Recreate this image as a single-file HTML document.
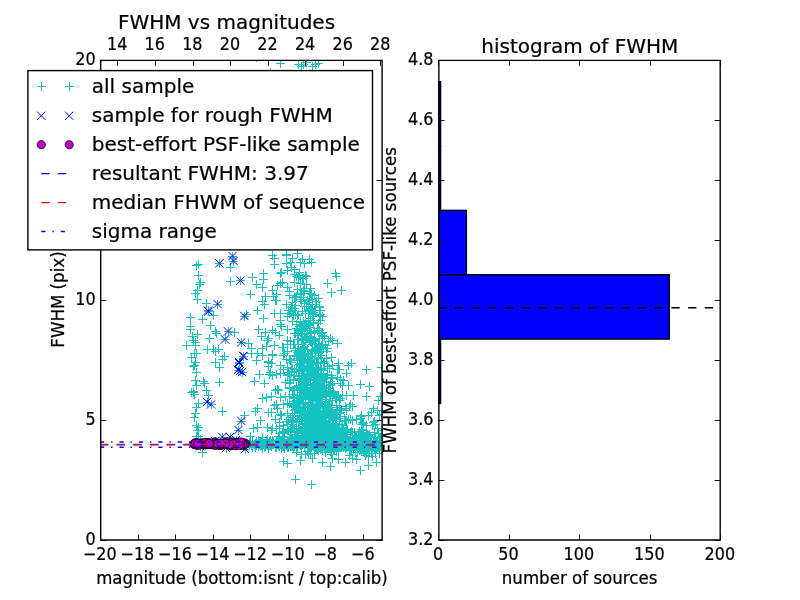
<!DOCTYPE html>
<html><head><meta charset="utf-8"><title>FWHM vs magnitudes</title>
<style>html,body{margin:0;padding:0;background:#fff;overflow:hidden}svg{display:block}</style></head>
<body>
<svg width="800" height="600" viewBox="0 0 800 600" font-family="'DejaVu Sans', 'Liberation Sans', sans-serif" font-size="16.67px" fill="#000" stroke="#000" stroke-width="0.22">
<rect width="800" height="600" fill="#fff" stroke="none"/>
<defs><clipPath id="c1"><rect x="100.00" y="60.00" width="281.82" height="480.00"/></clipPath><clipPath id="c2"><rect x="438.18" y="60.00" width="281.82" height="480.00"/></clipPath></defs>
<g clip-path="url(#c1)" fill="none">
<path d="M293 315.5h9M297.5 311v9M308 424.5h9M312.5 420v9M295 387.5h9M299.5 383v9M332 419.5h9M336.5 415v9M304 442.5h9M308.5 438v9M301 399.5h9M305.5 395v9M313 395.5h9M317.5 391v9M316 314.5h9M320.5 310v9M320 361.5h9M324.5 357v9M304 394.5h9M308.5 390v9M314 414.5h9M318.5 410v9M314 426.5h9M318.5 422v9M314 379.5h9M318.5 375v9M304 311.5h9M308.5 307v9M298 365.5h9M302.5 361v9M297 436.5h9M301.5 432v9M308 351.5h9M312.5 347v9M296 388.5h9M300.5 384v9M330 438.5h9M334.5 434v9M300 291.5h9M304.5 287v9M299 406.5h9M303.5 402v9M309 439.5h9M313.5 435v9M301 354.5h9M305.5 350v9M309 400.5h9M313.5 396v9M325 436.5h9M329.5 432v9M290 333.5h9M294.5 329v9M289 397.5h9M293.5 393v9M316 421.5h9M320.5 417v9M309 413.5h9M313.5 409v9M311 390.5h9M315.5 386v9M310 349.5h9M314.5 345v9M308 393.5h9M312.5 389v9M317 378.5h9M321.5 374v9M300 392.5h9M304.5 388v9M309 377.5h9M313.5 373v9M302 430.5h9M306.5 426v9M298 423.5h9M302.5 419v9M314 369.5h9M318.5 365v9M317 403.5h9M321.5 399v9M287 362.5h9M291.5 358v9M297 389.5h9M301.5 385v9M311 375.5h9M315.5 371v9M324 412.5h9M328.5 408v9M301 377.5h9M305.5 373v9M307 389.5h9M311.5 385v9M295 418.5h9M299.5 414v9M336 383.5h9M340.5 379v9M319 436.5h9M323.5 432v9M314 344.5h9M318.5 340v9M320 421.5h9M324.5 417v9M319 385.5h9M323.5 381v9M316 385.5h9M320.5 381v9M307 410.5h9M311.5 406v9M318 397.5h9M322.5 393v9M310 384.5h9M314.5 380v9M307 262.5h9M311.5 258v9M296 321.5h9M300.5 317v9M305 417.5h9M309.5 413v9M317 397.5h9M321.5 393v9M327 416.5h9M331.5 412v9M315 440.5h9M319.5 436v9M303 415.5h9M307.5 411v9M300 306.5h9M304.5 302v9M302 368.5h9M306.5 364v9M332 405.5h9M336.5 401v9M316 355.5h9M320.5 351v9M330 441.5h9M334.5 437v9M317 439.5h9M321.5 435v9M306 431.5h9M310.5 427v9M322 391.5h9M326.5 387v9M333 430.5h9M337.5 426v9M310 332.5h9M314.5 328v9M307 368.5h9M311.5 364v9M321 390.5h9M325.5 386v9M307 421.5h9M311.5 417v9M318 393.5h9M322.5 389v9M298 334.5h9M302.5 330v9M298 373.5h9M302.5 369v9M314 370.5h9M318.5 366v9M311 367.5h9M315.5 363v9M324 341.5h9M328.5 337v9M306 384.5h9M310.5 380v9M310 388.5h9M314.5 384v9M298 424.5h9M302.5 420v9M289 426.5h9M293.5 422v9M290 397.5h9M294.5 393v9M314 390.5h9M318.5 386v9M298 424.5h9M302.5 420v9M327 434.5h9M331.5 430v9M328 414.5h9M332.5 410v9M309 426.5h9M313.5 422v9M334 438.5h9M338.5 434v9M303 300.5h9M307.5 296v9M327 433.5h9M331.5 429v9M305 363.5h9M309.5 359v9M320 392.5h9M324.5 388v9M301 426.5h9M305.5 422v9M319 418.5h9M323.5 414v9M300 336.5h9M304.5 332v9M310 412.5h9M314.5 408v9M308 313.5h9M312.5 309v9M310 375.5h9M314.5 371v9M311 427.5h9M315.5 423v9M317 385.5h9M321.5 381v9M320 406.5h9M324.5 402v9M295 419.5h9M299.5 415v9M319 428.5h9M323.5 424v9M320 422.5h9M324.5 418v9M290 274.5h9M294.5 270v9M313 384.5h9M317.5 380v9M295 390.5h9M299.5 386v9M315 307.5h9M319.5 303v9M308 399.5h9M312.5 395v9M310 407.5h9M314.5 403v9M327 429.5h9M331.5 425v9M311 439.5h9M315.5 435v9M310 331.5h9M314.5 327v9M296 354.5h9M300.5 350v9M305 412.5h9M309.5 408v9M291 333.5h9M295.5 329v9M304 353.5h9M308.5 349v9M322 403.5h9M326.5 399v9M307 342.5h9M311.5 338v9M323 424.5h9M327.5 420v9M300 431.5h9M304.5 427v9M292 296.5h9M296.5 292v9M305 398.5h9M309.5 394v9M319 426.5h9M323.5 422v9M318 441.5h9M322.5 437v9M307 362.5h9M311.5 358v9M311 341.5h9M315.5 337v9M311 433.5h9M315.5 429v9M313 436.5h9M317.5 432v9M319 348.5h9M323.5 344v9M303 387.5h9M307.5 383v9M314 418.5h9M318.5 414v9M333 430.5h9M337.5 426v9M306 341.5h9M310.5 337v9M320 413.5h9M324.5 409v9M305 427.5h9M309.5 423v9M332 400.5h9M336.5 396v9M283 340.5h9M287.5 336v9M290 297.5h9M294.5 293v9M296 363.5h9M300.5 359v9M332 427.5h9M336.5 423v9M304 302.5h9M308.5 298v9M295 275.5h9M299.5 271v9M295 376.5h9M299.5 372v9M305 310.5h9M309.5 306v9M306 337.5h9M310.5 333v9M293 289.5h9M297.5 285v9M293 397.5h9M297.5 393v9M298 416.5h9M302.5 412v9M311 385.5h9M315.5 381v9M307 333.5h9M311.5 329v9M309 371.5h9M313.5 367v9M309 405.5h9M313.5 401v9M291 439.5h9M295.5 435v9M314 443.5h9M318.5 439v9M296 356.5h9M300.5 352v9M298 278.5h9M302.5 274v9M318 429.5h9M322.5 425v9M304 437.5h9M308.5 433v9M298 389.5h9M302.5 385v9M324 423.5h9M328.5 419v9M317 432.5h9M321.5 428v9M303 407.5h9M307.5 403v9M275 433.5h9M279.5 429v9M299 290.5h9M303.5 286v9M313 362.5h9M317.5 358v9M319 363.5h9M323.5 359v9M298 329.5h9M302.5 325v9M305 436.5h9M309.5 432v9M296 294.5h9M300.5 290v9M321 414.5h9M325.5 410v9M291 314.5h9M295.5 310v9M307 376.5h9M311.5 372v9M299 384.5h9M303.5 380v9M308 344.5h9M312.5 340v9M293 397.5h9M297.5 393v9M314 399.5h9M318.5 395v9M303 369.5h9M307.5 365v9M309 420.5h9M313.5 416v9M310 339.5h9M314.5 335v9M317 347.5h9M321.5 343v9M290 375.5h9M294.5 371v9M319 378.5h9M323.5 374v9M311 349.5h9M315.5 345v9M309 437.5h9M313.5 433v9M330 429.5h9M334.5 425v9M305 325.5h9M309.5 321v9M322 377.5h9M326.5 373v9M300 355.5h9M304.5 351v9M300 388.5h9M304.5 384v9M320 363.5h9M324.5 359v9M334 395.5h9M338.5 391v9M321 437.5h9M325.5 433v9M318 379.5h9M322.5 375v9M306 411.5h9M310.5 407v9M295 406.5h9M299.5 402v9M309 422.5h9M313.5 418v9M316 310.5h9M320.5 306v9M289 421.5h9M293.5 417v9M307 439.5h9M311.5 435v9M289 406.5h9M293.5 402v9M308 364.5h9M312.5 360v9M322 414.5h9M326.5 410v9M297 418.5h9M301.5 414v9M306 412.5h9M310.5 408v9M318 336.5h9M322.5 332v9M312 441.5h9M316.5 437v9M297 440.5h9M301.5 436v9M295 385.5h9M299.5 381v9M288 405.5h9M292.5 401v9M308 299.5h9M312.5 295v9M304 443.5h9M308.5 439v9M325 428.5h9M329.5 424v9M321 410.5h9M325.5 406v9M304 422.5h9M308.5 418v9M300 346.5h9M304.5 342v9M316 368.5h9M320.5 364v9M308 357.5h9M312.5 353v9M314 406.5h9M318.5 402v9M288 321.5h9M292.5 317v9M324 435.5h9M328.5 431v9M300 390.5h9M304.5 386v9M285 388.5h9M289.5 384v9M298 325.5h9M302.5 321v9M316 415.5h9M320.5 411v9M338 428.5h9M342.5 424v9M307 409.5h9M311.5 405v9M293 356.5h9M297.5 352v9M338 425.5h9M342.5 421v9M306 336.5h9M310.5 332v9M309 429.5h9M313.5 425v9M298 404.5h9M302.5 400v9M297 365.5h9M301.5 361v9M326 396.5h9M330.5 392v9M308 409.5h9M312.5 405v9M301 359.5h9M305.5 355v9M306 430.5h9M310.5 426v9M326 384.5h9M330.5 380v9M305 434.5h9M309.5 430v9M320 429.5h9M324.5 425v9M306 323.5h9M310.5 319v9M314 411.5h9M318.5 407v9M299 368.5h9M303.5 364v9M320 422.5h9M324.5 418v9M328 400.5h9M332.5 396v9M309 389.5h9M313.5 385v9M301 435.5h9M305.5 431v9M290 308.5h9M294.5 304v9M313 401.5h9M317.5 397v9M305 371.5h9M309.5 367v9M299 297.5h9M303.5 293v9M312 422.5h9M316.5 418v9M294 402.5h9M298.5 398v9M323 435.5h9M327.5 431v9M313 406.5h9M317.5 402v9M307 372.5h9M311.5 368v9M316 442.5h9M320.5 438v9M313 328.5h9M317.5 324v9M302 306.5h9M306.5 302v9M302 420.5h9M306.5 416v9M321 377.5h9M325.5 373v9M304 376.5h9M308.5 372v9M304 433.5h9M308.5 429v9M292 371.5h9M296.5 367v9M313 434.5h9M317.5 430v9M299 411.5h9M303.5 407v9M302 371.5h9M306.5 367v9M306 309.5h9M310.5 305v9M307 357.5h9M311.5 353v9M326 441.5h9M330.5 437v9M312 382.5h9M316.5 378v9M301 339.5h9M305.5 335v9M304 366.5h9M308.5 362v9M306 435.5h9M310.5 431v9M311 341.5h9M315.5 337v9M312 424.5h9M316.5 420v9M300 333.5h9M304.5 329v9M324 440.5h9M328.5 436v9M311 398.5h9M315.5 394v9M297 301.5h9M301.5 297v9M294 438.5h9M298.5 434v9M313 376.5h9M317.5 372v9M315 420.5h9M319.5 416v9M311 397.5h9M315.5 393v9M299 321.5h9M303.5 317v9M296 325.5h9M300.5 321v9M303 337.5h9M307.5 333v9M307 340.5h9M311.5 336v9M300 306.5h9M304.5 302v9M300 303.5h9M304.5 299v9M307 439.5h9M311.5 435v9M306 320.5h9M310.5 316v9M312 396.5h9M316.5 392v9M297 329.5h9M301.5 325v9M314 351.5h9M318.5 347v9M322 423.5h9M326.5 419v9M324 438.5h9M328.5 434v9M308 391.5h9M312.5 387v9M295 272.5h9M299.5 268v9M298 443.5h9M302.5 439v9M308 304.5h9M312.5 300v9M286 380.5h9M290.5 376v9M306 399.5h9M310.5 395v9M309 434.5h9M313.5 430v9M323 428.5h9M327.5 424v9M311 407.5h9M315.5 403v9M298 381.5h9M302.5 377v9M295 429.5h9M299.5 425v9M304 432.5h9M308.5 428v9M314 433.5h9M318.5 429v9M312 418.5h9M316.5 414v9M301 323.5h9M305.5 319v9M300 366.5h9M304.5 362v9M307 393.5h9M311.5 389v9M321 395.5h9M325.5 391v9M299 429.5h9M303.5 425v9M307 356.5h9M311.5 352v9M330 413.5h9M334.5 409v9M314 378.5h9M318.5 374v9M307 424.5h9M311.5 420v9M312 347.5h9M316.5 343v9M301 392.5h9M305.5 388v9M304 324.5h9M308.5 320v9M322 351.5h9M326.5 347v9M337 438.5h9M341.5 434v9M290 369.5h9M294.5 365v9M322 434.5h9M326.5 430v9M332 397.5h9M336.5 393v9M296 299.5h9M300.5 295v9M315 425.5h9M319.5 421v9M315 306.5h9M319.5 302v9M306 429.5h9M310.5 425v9M302 276.5h9M306.5 272v9M311 414.5h9M315.5 410v9M286 341.5h9M290.5 337v9M312 373.5h9M316.5 369v9M311 440.5h9M315.5 436v9M320 393.5h9M324.5 389v9M336 412.5h9M340.5 408v9M320 421.5h9M324.5 417v9M300 326.5h9M304.5 322v9M318 430.5h9M322.5 426v9M316 436.5h9M320.5 432v9M315 338.5h9M319.5 334v9M294 400.5h9M298.5 396v9M295 364.5h9M299.5 360v9M287 421.5h9M291.5 417v9M305 293.5h9M309.5 289v9M310 396.5h9M314.5 392v9M304 425.5h9M308.5 421v9M303 420.5h9M307.5 416v9M298 326.5h9M302.5 322v9M301 429.5h9M305.5 425v9M303 356.5h9M307.5 352v9M306 427.5h9M310.5 423v9M325 394.5h9M329.5 390v9M308 340.5h9M312.5 336v9M302 420.5h9M306.5 416v9M305 427.5h9M309.5 423v9M326 416.5h9M330.5 412v9M319 441.5h9M323.5 437v9M310 359.5h9M314.5 355v9M314 355.5h9M318.5 351v9M320 336.5h9M324.5 332v9M296 399.5h9M300.5 395v9M301 381.5h9M305.5 377v9M290 375.5h9M294.5 371v9M315 390.5h9M319.5 386v9M303 362.5h9M307.5 358v9M290 269.5h9M294.5 265v9M301 391.5h9M305.5 387v9M314 362.5h9M318.5 358v9M308 388.5h9M312.5 384v9M306 438.5h9M310.5 434v9M318 344.5h9M322.5 340v9M299 410.5h9M303.5 406v9M296 411.5h9M300.5 407v9M334 363.5h9M338.5 359v9M305 391.5h9M309.5 387v9M306 441.5h9M310.5 437v9M300 373.5h9M304.5 369v9M310 418.5h9M314.5 414v9M322 430.5h9M326.5 426v9M316 376.5h9M320.5 372v9M320 443.5h9M324.5 439v9M308 409.5h9M312.5 405v9M293 395.5h9M297.5 391v9M315 418.5h9M319.5 414v9M325 385.5h9M329.5 381v9M324 418.5h9M328.5 414v9M305 362.5h9M309.5 358v9M323 437.5h9M327.5 433v9M306 399.5h9M310.5 395v9M306 356.5h9M310.5 352v9M296 387.5h9M300.5 383v9M309 435.5h9M313.5 431v9M314 427.5h9M318.5 423v9M308 393.5h9M312.5 389v9M316 375.5h9M320.5 371v9M328 378.5h9M332.5 374v9M330 442.5h9M334.5 438v9M301 327.5h9M305.5 323v9M304 434.5h9M308.5 430v9M304 431.5h9M308.5 427v9M296 353.5h9M300.5 349v9M309 374.5h9M313.5 370v9M315 403.5h9M319.5 399v9M315 426.5h9M319.5 422v9M316 439.5h9M320.5 435v9M316 443.5h9M320.5 439v9M306 363.5h9M310.5 359v9M298 347.5h9M302.5 343v9M329 393.5h9M333.5 389v9M322 401.5h9M326.5 397v9M301 412.5h9M305.5 408v9M295 326.5h9M299.5 322v9M304 411.5h9M308.5 407v9M313 437.5h9M317.5 433v9M329 436.5h9M333.5 432v9M326 439.5h9M330.5 435v9M327 437.5h9M331.5 433v9M327 440.5h9M331.5 436v9M311 304.5h9M315.5 300v9M322 436.5h9M326.5 432v9M312 362.5h9M316.5 358v9M307 370.5h9M311.5 366v9M290 389.5h9M294.5 385v9M312 440.5h9M316.5 436v9M332 407.5h9M336.5 403v9M303 375.5h9M307.5 371v9M302 378.5h9M306.5 374v9M326 436.5h9M330.5 432v9M313 428.5h9M317.5 424v9M300 334.5h9M304.5 330v9M322 358.5h9M326.5 354v9M315 378.5h9M319.5 374v9M314 352.5h9M318.5 348v9M304 402.5h9M308.5 398v9M311 353.5h9M315.5 349v9M315 403.5h9M319.5 399v9M323 438.5h9M327.5 434v9M327 431.5h9M331.5 427v9M314 323.5h9M318.5 319v9M308 350.5h9M312.5 346v9M316 383.5h9M320.5 379v9M298 411.5h9M302.5 407v9M315 380.5h9M319.5 376v9M314 358.5h9M318.5 354v9M304 374.5h9M308.5 370v9M298 349.5h9M302.5 345v9M312 432.5h9M316.5 428v9M297 416.5h9M301.5 412v9M313 383.5h9M317.5 379v9M315 417.5h9M319.5 413v9M299 397.5h9M303.5 393v9M311 398.5h9M315.5 394v9M320 377.5h9M324.5 373v9M321 393.5h9M325.5 389v9M326 442.5h9M330.5 438v9M310 425.5h9M314.5 421v9M308 429.5h9M312.5 425v9M300 330.5h9M304.5 326v9M316 395.5h9M320.5 391v9M333 377.5h9M337.5 373v9M316 320.5h9M320.5 316v9M326 381.5h9M330.5 377v9M315 315.5h9M319.5 311v9M290 355.5h9M294.5 351v9M310 426.5h9M314.5 422v9M306 415.5h9M310.5 411v9M326 416.5h9M330.5 412v9M318 316.5h9M322.5 312v9M299 340.5h9M303.5 336v9M300 288.5h9M304.5 284v9M309 322.5h9M313.5 318v9M299 324.5h9M303.5 320v9M305 440.5h9M309.5 436v9M304 435.5h9M308.5 431v9M315 349.5h9M319.5 345v9M298 359.5h9M302.5 355v9M328 440.5h9M332.5 436v9M311 403.5h9M315.5 399v9M316 377.5h9M320.5 373v9M326 390.5h9M330.5 386v9M300 362.5h9M304.5 358v9M301 404.5h9M305.5 400v9M317 419.5h9M321.5 415v9M298 396.5h9M302.5 392v9M303 428.5h9M307.5 424v9M303 327.5h9M307.5 323v9M313 406.5h9M317.5 402v9M297 443.5h9M301.5 439v9M301 337.5h9M305.5 333v9M316 394.5h9M320.5 390v9M327 409.5h9M331.5 405v9M287 372.5h9M291.5 368v9M330 441.5h9M334.5 437v9M319 393.5h9M323.5 389v9M298 392.5h9M302.5 388v9M294 435.5h9M298.5 431v9M302 284.5h9M306.5 280v9M307 432.5h9M311.5 428v9M306 332.5h9M310.5 328v9M318 379.5h9M322.5 375v9M306 393.5h9M310.5 389v9M311 392.5h9M315.5 388v9M305 299.5h9M309.5 295v9M317 369.5h9M321.5 365v9M327 375.5h9M331.5 371v9M335 440.5h9M339.5 436v9M316 437.5h9M320.5 433v9M308 404.5h9M312.5 400v9M343 438.5h9M347.5 434v9M321 432.5h9M325.5 428v9M313 378.5h9M317.5 374v9M293 328.5h9M297.5 324v9M320 407.5h9M324.5 403v9M300 370.5h9M304.5 366v9M294 277.5h9M298.5 273v9M296 442.5h9M300.5 438v9M307 441.5h9M311.5 437v9M311 399.5h9M315.5 395v9M294 408.5h9M298.5 404v9M301 413.5h9M305.5 409v9M312 437.5h9M316.5 433v9M296 390.5h9M300.5 386v9M296 404.5h9M300.5 400v9M298 353.5h9M302.5 349v9M292 356.5h9M296.5 352v9M317 397.5h9M321.5 393v9M296 354.5h9M300.5 350v9M307 294.5h9M311.5 290v9M318 377.5h9M322.5 373v9M298 421.5h9M302.5 417v9M308 363.5h9M312.5 359v9M307 432.5h9M311.5 428v9M298 417.5h9M302.5 413v9M307 412.5h9M311.5 408v9M310 434.5h9M314.5 430v9M309 314.5h9M313.5 310v9M315 344.5h9M319.5 340v9M299 436.5h9M303.5 432v9M308 436.5h9M312.5 432v9M308 316.5h9M312.5 312v9M326 424.5h9M330.5 420v9M276 283.5h9M280.5 279v9M317 333.5h9M321.5 329v9M302 326.5h9M306.5 322v9M323 366.5h9M327.5 362v9M304 380.5h9M308.5 376v9M302 436.5h9M306.5 432v9M310 386.5h9M314.5 382v9M315 330.5h9M319.5 326v9M307 362.5h9M311.5 358v9M276 273.5h9M280.5 269v9M306 293.5h9M310.5 289v9M292 386.5h9M296.5 382v9M299 396.5h9M303.5 392v9M295 358.5h9M299.5 354v9M289 379.5h9M293.5 375v9M292 324.5h9M296.5 320v9M300 412.5h9M304.5 408v9M302 380.5h9M306.5 376v9M305 340.5h9M309.5 336v9M306 394.5h9M310.5 390v9M291 350.5h9M295.5 346v9M305 365.5h9M309.5 361v9M313 330.5h9M317.5 326v9M324 424.5h9M328.5 420v9M309 363.5h9M313.5 359v9M321 440.5h9M325.5 436v9M318 382.5h9M322.5 378v9M318 338.5h9M322.5 334v9M332 417.5h9M336.5 413v9M308 420.5h9M312.5 416v9M309 433.5h9M313.5 429v9M318 332.5h9M322.5 328v9M331 425.5h9M335.5 421v9M332 432.5h9M336.5 428v9M283 367.5h9M287.5 363v9M307 389.5h9M311.5 385v9M273 408.5h9M277.5 404v9M314 357.5h9M318.5 353v9M313 433.5h9M317.5 429v9M312 416.5h9M316.5 412v9M311 431.5h9M315.5 427v9M324 388.5h9M328.5 384v9M307 397.5h9M311.5 393v9M316 347.5h9M320.5 343v9M313 369.5h9M317.5 365v9M316 419.5h9M320.5 415v9M319 440.5h9M323.5 436v9M306 337.5h9M310.5 333v9M291 305.5h9M295.5 301v9M309 312.5h9M313.5 308v9M317 386.5h9M321.5 382v9M310 425.5h9M314.5 421v9M314 353.5h9M318.5 349v9M319 392.5h9M323.5 388v9M296 396.5h9M300.5 392v9M311 430.5h9M315.5 426v9M301 340.5h9M305.5 336v9M290 282.5h9M294.5 278v9M313 395.5h9M317.5 391v9M299 375.5h9M303.5 371v9M303 365.5h9M307.5 361v9M315 424.5h9M319.5 420v9M316 415.5h9M320.5 411v9M306 318.5h9M310.5 314v9M335 400.5h9M339.5 396v9M306 426.5h9M310.5 422v9M316 436.5h9M320.5 432v9M282 255.5h9M286.5 251v9M318 427.5h9M322.5 423v9M312 301.5h9M316.5 297v9M326 415.5h9M330.5 411v9M303 406.5h9M307.5 402v9M310 440.5h9M314.5 436v9M326 409.5h9M330.5 405v9M301 313.5h9M305.5 309v9M323 414.5h9M327.5 410v9M297 359.5h9M301.5 355v9M330 429.5h9M334.5 425v9M310 295.5h9M314.5 291v9M313 370.5h9M317.5 366v9M302 414.5h9M306.5 410v9M303 338.5h9M307.5 334v9M313 411.5h9M317.5 407v9M315 416.5h9M319.5 412v9M311 420.5h9M315.5 416v9M310 433.5h9M314.5 429v9M311 383.5h9M315.5 379v9M318 335.5h9M322.5 331v9M286 360.5h9M290.5 356v9M294 380.5h9M298.5 376v9M287 307.5h9M291.5 303v9M303 417.5h9M307.5 413v9M286 310.5h9M290.5 306v9M307 308.5h9M311.5 304v9M314 438.5h9M318.5 434v9M309 427.5h9M313.5 423v9M300 359.5h9M304.5 355v9M310 373.5h9M314.5 369v9M315 429.5h9M319.5 425v9M315 408.5h9M319.5 404v9M300 361.5h9M304.5 357v9M316 388.5h9M320.5 384v9M294 431.5h9M298.5 427v9M305 259.5h9M309.5 255v9M274 443.5h9M278.5 439v9M304 402.5h9M308.5 398v9M294 344.5h9M298.5 340v9M322 426.5h9M326.5 422v9M289 315.5h9M293.5 311v9M328 383.5h9M332.5 379v9M293 403.5h9M297.5 399v9M327 357.5h9M331.5 353v9M318 434.5h9M322.5 430v9M312 416.5h9M316.5 412v9M309 340.5h9M313.5 336v9M326 338.5h9M330.5 334v9M310 310.5h9M314.5 306v9M285 403.5h9M289.5 399v9M317 345.5h9M321.5 341v9M313 400.5h9M317.5 396v9M292 428.5h9M296.5 424v9M322 433.5h9M326.5 429v9M292 328.5h9M296.5 324v9M310 372.5h9M314.5 368v9M311 384.5h9M315.5 380v9M302 379.5h9M306.5 375v9M316 384.5h9M320.5 380v9M298 390.5h9M302.5 386v9M314 422.5h9M318.5 418v9M302 367.5h9M306.5 363v9M306 373.5h9M310.5 369v9M313 349.5h9M317.5 345v9M306 385.5h9M310.5 381v9M305 339.5h9M309.5 335v9M301 275.5h9M305.5 271v9M313 349.5h9M317.5 345v9M282 263.5h9M286.5 259v9M318 391.5h9M322.5 387v9M311 432.5h9M315.5 428v9M288 258.5h9M292.5 254v9M304 360.5h9M308.5 356v9M318 411.5h9M322.5 407v9M323 374.5h9M327.5 370v9M299 278.5h9M303.5 274v9M300 263.5h9M304.5 259v9M298 338.5h9M302.5 334v9M298 259.5h9M302.5 255v9M319 412.5h9M323.5 408v9M293 350.5h9M297.5 346v9M298 311.5h9M302.5 307v9M317 399.5h9M321.5 395v9M285 291.5h9M289.5 287v9M303 349.5h9M307.5 345v9M311 348.5h9M315.5 344v9M283 270.5h9M287.5 266v9M307 405.5h9M311.5 401v9M310 385.5h9M314.5 381v9M306 288.5h9M310.5 284v9M294 333.5h9M298.5 329v9M311 310.5h9M315.5 306v9M316 431.5h9M320.5 427v9M319 379.5h9M323.5 375v9M324 433.5h9M328.5 429v9M313 398.5h9M317.5 394v9M315 403.5h9M319.5 399v9M288 310.5h9M292.5 306v9M299 414.5h9M303.5 410v9M294 314.5h9M298.5 310v9M308 410.5h9M312.5 406v9M318 387.5h9M322.5 383v9M291 348.5h9M295.5 344v9M296 283.5h9M300.5 279v9M296 366.5h9M300.5 362v9M294 371.5h9M298.5 367v9M322 382.5h9M326.5 378v9M296 262.5h9M300.5 258v9M314 298.5h9M318.5 294v9M317 358.5h9M321.5 354v9M303 415.5h9M307.5 411v9M285 295.5h9M289.5 291v9M332 424.5h9M336.5 420v9M309 439.5h9M313.5 435v9M287 267.5h9M291.5 263v9M316 390.5h9M320.5 386v9M305 327.5h9M309.5 323v9M292 276.5h9M296.5 272v9M297 293.5h9M301.5 289v9M304 320.5h9M308.5 316v9M293 253.5h9M297.5 249v9M316 384.5h9M320.5 380v9M302 338.5h9M306.5 334v9M309 426.5h9M313.5 422v9M325 431.5h9M329.5 427v9M320 408.5h9M324.5 404v9M333 440.5h9M337.5 436v9M310 436.5h9M314.5 432v9M313 410.5h9M317.5 406v9M295 395.5h9M299.5 391v9M340 420.5h9M344.5 416v9M291 442.5h9M295.5 438v9M318 404.5h9M322.5 400v9M299 369.5h9M303.5 365v9M320 430.5h9M324.5 426v9M327 433.5h9M331.5 429v9M287 434.5h9M291.5 430v9M311 423.5h9M315.5 419v9M285 439.5h9M289.5 435v9M338 440.5h9M342.5 436v9M307 369.5h9M311.5 365v9M288 428.5h9M292.5 424v9M303 428.5h9M307.5 424v9M337 436.5h9M341.5 432v9M340 442.5h9M344.5 438v9M336 442.5h9M340.5 438v9M301 442.5h9M305.5 438v9M312 417.5h9M316.5 413v9M342 410.5h9M346.5 406v9M302 377.5h9M306.5 373v9M309 369.5h9M313.5 365v9M298 440.5h9M302.5 436v9M295 443.5h9M299.5 439v9M335 418.5h9M339.5 414v9M325 436.5h9M329.5 432v9M322 387.5h9M326.5 383v9M324 429.5h9M328.5 425v9M332 431.5h9M336.5 427v9M340 431.5h9M344.5 427v9M314 435.5h9M318.5 431v9M309 425.5h9M313.5 421v9M297 439.5h9M301.5 435v9M333 369.5h9M337.5 365v9M306 407.5h9M310.5 403v9M289 401.5h9M293.5 397v9M310 379.5h9M314.5 375v9M315 418.5h9M319.5 414v9M329 392.5h9M333.5 388v9M332 414.5h9M336.5 410v9M302 429.5h9M306.5 425v9M301 443.5h9M305.5 439v9M309 428.5h9M313.5 424v9M294 426.5h9M298.5 422v9M313 414.5h9M317.5 410v9M322 399.5h9M326.5 395v9M315 422.5h9M319.5 418v9M287 441.5h9M291.5 437v9M294 441.5h9M298.5 437v9M336 398.5h9M340.5 394v9M297 397.5h9M301.5 393v9M327 432.5h9M331.5 428v9M325 442.5h9M329.5 438v9M309 441.5h9M313.5 437v9M298 441.5h9M302.5 437v9M318 390.5h9M322.5 386v9M299 432.5h9M303.5 428v9M312 430.5h9M316.5 426v9M316 406.5h9M320.5 402v9M302 437.5h9M306.5 433v9M311 427.5h9M315.5 423v9M309 425.5h9M313.5 421v9M293 432.5h9M297.5 428v9M311 441.5h9M315.5 437v9M304 431.5h9M308.5 427v9M283 441.5h9M287.5 437v9M309 435.5h9M313.5 431v9M310 432.5h9M314.5 428v9M304 439.5h9M308.5 435v9M279 369.5h9M283.5 365v9M328 418.5h9M332.5 414v9M326 385.5h9M330.5 381v9M326 384.5h9M330.5 380v9M320 436.5h9M324.5 432v9M293 440.5h9M297.5 436v9M317 369.5h9M321.5 365v9M299 428.5h9M303.5 424v9M352 419.5h9M356.5 415v9M306 399.5h9M310.5 395v9M326 434.5h9M330.5 430v9M288 424.5h9M292.5 420v9M294 436.5h9M298.5 432v9M305 438.5h9M309.5 434v9M326 443.5h9M330.5 439v9M324 438.5h9M328.5 434v9M319 437.5h9M323.5 433v9M283 413.5h9M287.5 409v9M334 428.5h9M338.5 424v9M299 411.5h9M303.5 407v9M342 436.5h9M346.5 432v9M346 438.5h9M350.5 434v9M329 425.5h9M333.5 421v9M331 437.5h9M335.5 433v9M293 413.5h9M297.5 409v9M358 433.5h9M362.5 429v9M318 436.5h9M322.5 432v9M331 413.5h9M335.5 409v9M300 439.5h9M304.5 435v9M313 415.5h9M317.5 411v9M294 433.5h9M298.5 429v9M310 442.5h9M314.5 438v9M315 422.5h9M319.5 418v9M319 423.5h9M323.5 419v9M338 441.5h9M342.5 437v9M323 430.5h9M327.5 426v9M319 430.5h9M323.5 426v9M315 416.5h9M319.5 412v9M349 439.5h9M353.5 435v9M305 425.5h9M309.5 421v9M335 369.5h9M339.5 365v9M281 443.5h9M285.5 439v9M300 416.5h9M304.5 412v9M321 434.5h9M325.5 430v9M312 429.5h9M316.5 425v9M366 436.5h9M370.5 432v9M358 430.5h9M362.5 426v9M289 428.5h9M293.5 424v9M296 388.5h9M300.5 384v9M312 398.5h9M316.5 394v9M344 385.5h9M348.5 381v9M334 369.5h9M338.5 365v9M320 432.5h9M324.5 428v9M290 410.5h9M294.5 406v9M300 395.5h9M304.5 391v9M269 441.5h9M273.5 437v9M288 415.5h9M292.5 411v9M322 425.5h9M326.5 421v9M328 439.5h9M332.5 435v9M292 422.5h9M296.5 418v9M316 418.5h9M320.5 414v9M342 420.5h9M346.5 416v9M317 443.5h9M321.5 439v9M309 387.5h9M313.5 383v9M325 434.5h9M329.5 430v9M324 408.5h9M328.5 404v9M316 440.5h9M320.5 436v9M305 423.5h9M309.5 419v9M307 442.5h9M311.5 438v9M316 426.5h9M320.5 422v9M305 421.5h9M309.5 417v9M337 433.5h9M341.5 429v9M330 416.5h9M334.5 412v9M333 429.5h9M337.5 425v9M349 442.5h9M353.5 438v9M341 443.5h9M345.5 439v9M339 442.5h9M343.5 438v9M321 434.5h9M325.5 430v9M311 385.5h9M315.5 381v9M354 435.5h9M358.5 431v9M303 406.5h9M307.5 402v9M304 421.5h9M308.5 417v9M300 417.5h9M304.5 413v9M318 420.5h9M322.5 416v9M322 439.5h9M326.5 435v9M332 398.5h9M336.5 394v9M311 432.5h9M315.5 428v9M285 383.5h9M289.5 379v9M320 443.5h9M324.5 439v9M331 441.5h9M335.5 437v9M315 440.5h9M319.5 436v9M312 415.5h9M316.5 411v9M324 441.5h9M328.5 437v9M339 431.5h9M343.5 427v9M313 428.5h9M317.5 424v9M290 428.5h9M294.5 424v9M305 436.5h9M309.5 432v9M312 397.5h9M316.5 393v9M284 430.5h9M288.5 426v9M328 439.5h9M332.5 435v9M302 426.5h9M306.5 422v9M323 441.5h9M327.5 437v9M318 419.5h9M322.5 415v9M309 439.5h9M313.5 435v9M342 395.5h9M346.5 391v9M305 442.5h9M309.5 438v9M303 435.5h9M307.5 431v9M320 438.5h9M324.5 434v9M329 425.5h9M333.5 421v9M314 432.5h9M318.5 428v9M298 430.5h9M302.5 426v9M326 430.5h9M330.5 426v9M325 423.5h9M329.5 419v9M350 437.5h9M354.5 433v9M311 435.5h9M315.5 431v9M318 437.5h9M322.5 433v9M305 440.5h9M309.5 436v9M289 422.5h9M293.5 418v9M316 384.5h9M320.5 380v9M329 391.5h9M333.5 387v9M297 370.5h9M301.5 366v9M303 441.5h9M307.5 437v9M295 416.5h9M299.5 412v9M337 442.5h9M341.5 438v9M304 406.5h9M308.5 402v9M324 403.5h9M328.5 399v9M300 429.5h9M304.5 425v9M316 369.5h9M320.5 365v9M304 430.5h9M308.5 426v9M275 426.5h9M279.5 422v9M316 434.5h9M320.5 430v9M323 406.5h9M327.5 402v9M279 425.5h9M283.5 421v9M312 428.5h9M316.5 424v9M307 431.5h9M311.5 427v9M296 413.5h9M300.5 409v9M310 442.5h9M314.5 438v9M282 421.5h9M286.5 417v9M319 442.5h9M323.5 438v9M335 438.5h9M339.5 434v9M293 443.5h9M297.5 439v9M313 427.5h9M317.5 423v9M339 380.5h9M343.5 376v9M317 438.5h9M321.5 434v9M306 441.5h9M310.5 437v9M299 427.5h9M303.5 423v9M318 443.5h9M322.5 439v9M312 434.5h9M316.5 430v9M325 431.5h9M329.5 427v9M289 442.5h9M293.5 438v9M333 396.5h9M337.5 392v9M308 433.5h9M312.5 429v9M325 424.5h9M329.5 420v9M302 441.5h9M306.5 437v9M292 369.5h9M296.5 365v9M305 439.5h9M309.5 435v9M298 430.5h9M302.5 426v9M308 441.5h9M312.5 437v9M326 440.5h9M330.5 436v9M333 440.5h9M337.5 436v9M318 433.5h9M322.5 429v9M305 441.5h9M309.5 437v9M307 430.5h9M311.5 426v9M325 425.5h9M329.5 421v9M334 439.5h9M338.5 435v9M309 411.5h9M313.5 407v9M312 442.5h9M316.5 438v9M302 425.5h9M306.5 421v9M318 407.5h9M322.5 403v9M331 423.5h9M335.5 419v9M265 443.5h9M269.5 439v9M319 442.5h9M323.5 438v9M305 442.5h9M309.5 438v9M275 440.5h9M279.5 436v9M320 427.5h9M324.5 423v9M313 373.5h9M317.5 369v9M321 433.5h9M325.5 429v9M291 409.5h9M295.5 405v9M351 437.5h9M355.5 433v9M316 369.5h9M320.5 365v9M309 433.5h9M313.5 429v9M340 439.5h9M344.5 435v9M326 439.5h9M330.5 435v9M329 441.5h9M333.5 437v9M334 442.5h9M338.5 438v9M274 436.5h9M278.5 432v9M276 414.5h9M280.5 410v9M276 324.5h9M280.5 320v9M295 400.5h9M299.5 396v9M285 382.5h9M289.5 378v9M288 302.5h9M292.5 298v9M301 442.5h9M305.5 438v9M289 344.5h9M293.5 340v9M285 396.5h9M289.5 392v9M264 366.5h9M268.5 362v9M295 385.5h9M299.5 381v9M298 443.5h9M302.5 439v9M271 419.5h9M275.5 415v9M283 344.5h9M287.5 340v9M267 412.5h9M271.5 408v9M302 382.5h9M306.5 378v9M290 344.5h9M294.5 340v9M302 394.5h9M306.5 390v9M244 343.5h9M248.5 339v9M304 424.5h9M308.5 420v9M294 355.5h9M298.5 351v9M284 310.5h9M288.5 306v9M302 430.5h9M306.5 426v9M283 329.5h9M287.5 325v9M288 413.5h9M292.5 409v9M286 430.5h9M290.5 426v9M240 415.5h9M244.5 411v9M302 439.5h9M306.5 435v9M291 350.5h9M295.5 346v9M288 368.5h9M292.5 364v9M279 404.5h9M283.5 400v9M283 316.5h9M287.5 312v9M290 442.5h9M294.5 438v9M291 407.5h9M295.5 403v9M294 409.5h9M298.5 405v9M290 398.5h9M294.5 394v9M285 387.5h9M289.5 383v9M293 335.5h9M297.5 331v9M270 313.5h9M274.5 309v9M279 347.5h9M283.5 343v9M278 282.5h9M282.5 278v9M293 403.5h9M297.5 399v9M271 332.5h9M275.5 328v9M279 436.5h9M283.5 432v9M242 314.5h9M246.5 310v9M285 359.5h9M289.5 355v9M286 429.5h9M290.5 425v9M295 402.5h9M299.5 398v9M283 374.5h9M287.5 370v9M296 415.5h9M300.5 411v9M284 372.5h9M288.5 368v9M277 326.5h9M281.5 322v9M301 442.5h9M305.5 438v9M279 431.5h9M283.5 427v9M301 416.5h9M305.5 412v9M293 352.5h9M297.5 348v9M301 388.5h9M305.5 384v9M287 307.5h9M291.5 303v9M283 287.5h9M287.5 283v9M303 438.5h9M307.5 434v9M283 375.5h9M287.5 371v9M297 340.5h9M301.5 336v9M292 422.5h9M296.5 418v9M289 390.5h9M293.5 386v9M300 407.5h9M304.5 403v9M276 313.5h9M280.5 309v9M298 379.5h9M302.5 375v9M276 373.5h9M280.5 369v9M268 355.5h9M272.5 351v9M296 331.5h9M300.5 327v9M292 431.5h9M296.5 427v9M286 417.5h9M290.5 413v9M300 395.5h9M304.5 391v9M283 351.5h9M287.5 347v9M272 404.5h9M276.5 400v9M272 374.5h9M276.5 370v9M270 258.5h9M274.5 254v9M283 403.5h9M287.5 399v9M253 408.5h9M257.5 404v9M305 440.5h9M309.5 436v9M304 426.5h9M308.5 422v9M260 304.5h9M264.5 300v9M282 359.5h9M286.5 355v9M268 290.5h9M272.5 286v9M271 300.5h9M275.5 296v9M281 382.5h9M285.5 378v9M264 338.5h9M268.5 334v9M291 297.5h9M295.5 293v9M298 403.5h9M302.5 399v9M292 436.5h9M296.5 432v9M303 426.5h9M307.5 422v9M272 294.5h9M276.5 290v9M279 355.5h9M283.5 351v9M258 287.5h9M262.5 283v9M295 375.5h9M299.5 371v9M278 437.5h9M282.5 433v9M275 335.5h9M279.5 331v9M303 415.5h9M307.5 411v9M299 386.5h9M303.5 382v9M273 389.5h9M277.5 385v9M263 427.5h9M267.5 423v9M293 358.5h9M297.5 354v9M295 360.5h9M299.5 356v9M301 416.5h9M305.5 412v9M296 322.5h9M300.5 318v9M285 313.5h9M289.5 309v9M285 374.5h9M289.5 370v9M290 371.5h9M294.5 367v9M294 356.5h9M298.5 352v9M278 347.5h9M282.5 343v9M278 432.5h9M282.5 428v9M265 374.5h9M269.5 370v9M296 357.5h9M300.5 353v9M275 422.5h9M279.5 418v9M268 428.5h9M272.5 424v9M297 412.5h9M301.5 408v9M275 440.5h9M279.5 436v9M259 318.5h9M263.5 314v9M294 379.5h9M298.5 375v9M283 424.5h9M287.5 420v9M293 441.5h9M297.5 437v9M257 336.5h9M261.5 332v9M299 417.5h9M303.5 413v9M293 339.5h9M297.5 335v9M266 372.5h9M270.5 368v9M303 418.5h9M307.5 414v9M289 420.5h9M293.5 416v9M269 296.5h9M273.5 292v9M258 348.5h9M262.5 344v9M273 440.5h9M277.5 436v9M267 396.5h9M271.5 392v9M276 397.5h9M280.5 393v9M299 348.5h9M303.5 344v9M297 380.5h9M301.5 376v9M295 351.5h9M299.5 347v9M296 321.5h9M300.5 317v9M280 353.5h9M284.5 349v9M288 394.5h9M292.5 390v9M300 390.5h9M304.5 386v9M271 390.5h9M275.5 386v9M267 363.5h9M271.5 359v9M294 378.5h9M298.5 374v9M287 431.5h9M291.5 427v9M274 436.5h9M278.5 432v9M280 433.5h9M284.5 429v9M286 344.5h9M290.5 340v9M288 404.5h9M292.5 400v9M284 419.5h9M288.5 415v9M264 361.5h9M268.5 357v9M300 383.5h9M304.5 379v9M283 429.5h9M287.5 425v9M295 412.5h9M299.5 408v9M302 415.5h9M306.5 411v9M282 304.5h9M286.5 300v9M246 294.5h9M250.5 290v9M303 411.5h9M307.5 407v9M281 396.5h9M285.5 392v9M268 330.5h9M272.5 326v9M286 262.5h9M290.5 258v9M298 344.5h9M302.5 340v9M319 370.5h9M323.5 366v9M336 379.5h9M340.5 375v9M331 273.5h9M335.5 269v9M332 276.5h9M336.5 272v9M323 283.5h9M327.5 279v9M327 292.5h9M331.5 288v9M344 365.5h9M348.5 361v9M328 340.5h9M332.5 336v9M347 363.5h9M351.5 359v9M323 348.5h9M327.5 344v9M333 343.5h9M337.5 339v9M337 290.5h9M341.5 286v9M338 385.5h9M342.5 381v9M342 373.5h9M346.5 369v9M344 443.5h9M348.5 439v9M367 445.5h9M371.5 441v9M297 447.5h9M301.5 443v9M300 446.5h9M304.5 442v9M307 447.5h9M311.5 443v9M291 443.5h9M295.5 439v9M312 444.5h9M316.5 440v9M327 442.5h9M331.5 438v9M322 446.5h9M326.5 442v9M268 443.5h9M272.5 439v9M340 441.5h9M344.5 437v9M254 443.5h9M258.5 439v9M272 445.5h9M276.5 441v9M297 439.5h9M301.5 435v9M354 441.5h9M358.5 437v9M278 446.5h9M282.5 442v9M354 444.5h9M358.5 440v9M321 444.5h9M325.5 440v9M337 440.5h9M341.5 436v9M284 447.5h9M288.5 443v9M373 446.5h9M377.5 442v9M330 446.5h9M334.5 442v9M255 442.5h9M259.5 438v9M351 445.5h9M355.5 441v9M306 447.5h9M310.5 443v9M355 443.5h9M359.5 439v9M337 443.5h9M341.5 439v9M372 443.5h9M376.5 439v9M365 445.5h9M369.5 441v9M332 443.5h9M336.5 439v9M346 443.5h9M350.5 439v9M252 441.5h9M256.5 437v9M349 440.5h9M353.5 436v9M342 446.5h9M346.5 442v9M369 447.5h9M373.5 443v9M344 446.5h9M348.5 442v9M326 447.5h9M330.5 443v9M347 443.5h9M351.5 439v9M324 444.5h9M328.5 440v9M308 445.5h9M312.5 441v9M374 444.5h9M378.5 440v9M310 448.5h9M314.5 444v9M258 441.5h9M262.5 437v9M251 443.5h9M255.5 439v9M293 443.5h9M297.5 439v9M305 442.5h9M309.5 438v9M318 446.5h9M322.5 442v9M254 440.5h9M258.5 436v9M317 446.5h9M321.5 442v9M371 446.5h9M375.5 442v9M344 445.5h9M348.5 441v9M337 447.5h9M341.5 443v9M313 449.5h9M317.5 445v9M361 444.5h9M365.5 440v9M256 446.5h9M260.5 442v9M347 445.5h9M351.5 441v9M339 445.5h9M343.5 441v9M294 443.5h9M298.5 439v9M309 442.5h9M313.5 438v9M265 445.5h9M269.5 441v9M245 443.5h9M249.5 439v9M289 446.5h9M293.5 442v9M289 446.5h9M293.5 442v9M313 443.5h9M317.5 439v9M290 445.5h9M294.5 441v9M362 444.5h9M366.5 440v9M264 444.5h9M268.5 440v9M353 447.5h9M357.5 443v9M316 444.5h9M320.5 440v9M274 445.5h9M278.5 441v9M360 440.5h9M364.5 436v9M318 445.5h9M322.5 441v9M257 441.5h9M261.5 437v9M359 443.5h9M363.5 439v9M280 448.5h9M284.5 444v9M320 448.5h9M324.5 444v9M334 443.5h9M338.5 439v9M343 441.5h9M347.5 437v9M339 445.5h9M343.5 441v9M354 443.5h9M358.5 439v9M346 445.5h9M350.5 441v9M269 441.5h9M273.5 437v9M318 446.5h9M322.5 442v9M310 447.5h9M314.5 443v9M262 441.5h9M266.5 437v9M302 442.5h9M306.5 438v9M347 442.5h9M351.5 438v9M303 446.5h9M307.5 442v9M296 440.5h9M300.5 436v9M307 444.5h9M311.5 440v9M319 444.5h9M323.5 440v9M345 442.5h9M349.5 438v9M357 446.5h9M361.5 442v9M283 440.5h9M287.5 436v9M279 441.5h9M283.5 437v9M286 442.5h9M290.5 438v9M359 446.5h9M363.5 442v9M363 443.5h9M367.5 439v9M290 442.5h9M294.5 438v9M355 445.5h9M359.5 441v9M316 443.5h9M320.5 439v9M371 443.5h9M375.5 439v9M320 443.5h9M324.5 439v9M364 445.5h9M368.5 441v9M318 450.5h9M322.5 446v9M291 442.5h9M295.5 438v9M357 445.5h9M361.5 441v9M289 444.5h9M293.5 440v9M349 443.5h9M353.5 439v9M315 447.5h9M319.5 443v9M287 446.5h9M291.5 442v9M307 446.5h9M311.5 442v9M364 443.5h9M368.5 439v9M284 442.5h9M288.5 438v9M256 445.5h9M260.5 441v9M364 443.5h9M368.5 439v9M260 443.5h9M264.5 439v9M275 446.5h9M279.5 442v9M308 441.5h9M312.5 437v9M347 442.5h9M351.5 438v9M374 446.5h9M378.5 442v9M269 444.5h9M273.5 440v9M275 446.5h9M279.5 442v9M376 442.5h9M380.5 438v9M319 446.5h9M323.5 442v9M358 443.5h9M362.5 439v9M293 447.5h9M297.5 443v9M283 446.5h9M287.5 442v9M360 445.5h9M364.5 441v9M272 447.5h9M276.5 443v9M280 445.5h9M284.5 441v9M293 443.5h9M297.5 439v9M289 448.5h9M293.5 444v9M266 445.5h9M270.5 441v9M283 447.5h9M287.5 443v9M267 444.5h9M271.5 440v9M315 447.5h9M319.5 443v9M336 442.5h9M340.5 438v9M313 441.5h9M317.5 437v9M254 441.5h9M258.5 437v9M322 446.5h9M326.5 442v9M339 440.5h9M343.5 436v9M268 440.5h9M272.5 436v9M308 441.5h9M312.5 437v9M373 445.5h9M377.5 441v9M354 445.5h9M358.5 441v9M305 442.5h9M309.5 438v9M279 446.5h9M283.5 442v9M266 445.5h9M270.5 441v9M251 447.5h9M255.5 443v9M275 446.5h9M279.5 442v9M309 443.5h9M313.5 439v9M310 445.5h9M314.5 441v9M267 444.5h9M271.5 440v9M304 445.5h9M308.5 441v9M303 445.5h9M307.5 441v9M351 444.5h9M355.5 440v9M366 446.5h9M370.5 442v9M371 444.5h9M375.5 440v9M309 446.5h9M313.5 442v9M357 444.5h9M361.5 440v9M326 444.5h9M330.5 440v9M258 446.5h9M262.5 442v9M254 446.5h9M258.5 442v9M324 447.5h9M328.5 443v9M334 446.5h9M338.5 442v9M331 444.5h9M335.5 440v9M308 445.5h9M312.5 441v9M323 445.5h9M327.5 441v9M332 440.5h9M336.5 436v9M337 442.5h9M341.5 438v9M264 448.5h9M268.5 444v9M307 444.5h9M311.5 440v9M288 438.5h9M292.5 434v9M308 444.5h9M312.5 440v9M296 445.5h9M300.5 441v9M254 441.5h9M258.5 437v9M349 449.5h9M353.5 445v9M313 447.5h9M317.5 443v9M360 446.5h9M364.5 442v9M250 444.5h9M254.5 440v9M257 445.5h9M261.5 441v9M261 446.5h9M265.5 442v9M359 445.5h9M363.5 441v9M311 443.5h9M315.5 439v9M344 445.5h9M348.5 441v9M255 444.5h9M259.5 440v9M343 445.5h9M347.5 441v9M255 442.5h9M259.5 438v9M365 445.5h9M369.5 441v9M312 444.5h9M316.5 440v9M371 445.5h9M375.5 441v9M328 445.5h9M332.5 441v9M324 441.5h9M328.5 437v9M267 446.5h9M271.5 442v9M328 446.5h9M332.5 442v9M344 441.5h9M348.5 437v9M325 444.5h9M329.5 440v9M335 442.5h9M339.5 438v9M361 443.5h9M365.5 439v9M336 446.5h9M340.5 442v9M329 445.5h9M333.5 441v9M314 448.5h9M318.5 444v9M305 444.5h9M309.5 440v9M339 442.5h9M343.5 438v9M354 444.5h9M358.5 440v9M341 439.5h9M345.5 435v9M258 448.5h9M262.5 444v9M278 445.5h9M282.5 441v9M326 445.5h9M330.5 441v9M319 444.5h9M323.5 440v9M366 442.5h9M370.5 438v9M374 444.5h9M378.5 440v9M363 442.5h9M367.5 438v9M324 443.5h9M328.5 439v9M339 445.5h9M343.5 441v9M357 441.5h9M361.5 437v9M264 448.5h9M268.5 444v9M286 442.5h9M290.5 438v9M248 446.5h9M252.5 442v9M327 443.5h9M331.5 439v9M366 441.5h9M370.5 437v9M245 445.5h9M249.5 441v9M261 444.5h9M265.5 440v9M271 443.5h9M275.5 439v9M347 444.5h9M351.5 440v9M293 443.5h9M297.5 439v9M271 445.5h9M275.5 441v9M294 443.5h9M298.5 439v9M278 444.5h9M282.5 440v9M278 446.5h9M282.5 442v9M319 441.5h9M323.5 437v9M333 443.5h9M337.5 439v9M277 442.5h9M281.5 438v9M317 442.5h9M321.5 438v9M248 441.5h9M252.5 437v9M373 443.5h9M377.5 439v9M258 444.5h9M262.5 440v9M318 444.5h9M322.5 440v9M376 440.5h9M380.5 436v9M287 445.5h9M291.5 441v9M282 445.5h9M286.5 441v9M342 444.5h9M346.5 440v9M306 442.5h9M310.5 438v9M280 442.5h9M284.5 438v9M320 448.5h9M324.5 444v9M354 448.5h9M358.5 444v9M333 445.5h9M337.5 441v9M276 442.5h9M280.5 438v9M333 447.5h9M337.5 443v9M367 444.5h9M371.5 440v9M271 447.5h9M275.5 443v9M331 443.5h9M335.5 439v9M310 445.5h9M314.5 441v9M332 443.5h9M336.5 439v9M263 445.5h9M267.5 441v9M275 442.5h9M279.5 438v9M290 446.5h9M294.5 442v9M355 443.5h9M359.5 439v9M295 442.5h9M299.5 438v9M289 445.5h9M293.5 441v9M342 444.5h9M346.5 440v9M263 439.5h9M267.5 435v9M287 444.5h9M291.5 440v9M317 444.5h9M321.5 440v9M290 444.5h9M294.5 440v9M323 448.5h9M327.5 444v9M324 442.5h9M328.5 438v9M263 444.5h9M267.5 440v9M262 440.5h9M266.5 436v9M348 441.5h9M352.5 437v9M300 443.5h9M304.5 439v9M264 444.5h9M268.5 440v9M255 443.5h9M259.5 439v9M300 445.5h9M304.5 441v9M356 445.5h9M360.5 441v9M272 446.5h9M276.5 442v9M376 443.5h9M380.5 439v9M247 445.5h9M251.5 441v9M323 442.5h9M327.5 438v9M337 445.5h9M341.5 441v9M315 445.5h9M319.5 441v9M279 443.5h9M283.5 439v9M286 437.5h9M290.5 433v9M318 442.5h9M322.5 438v9M363 449.5h9M367.5 445v9M300 444.5h9M304.5 440v9M290 442.5h9M294.5 438v9M297 444.5h9M301.5 440v9M376 446.5h9M380.5 442v9M280 445.5h9M284.5 441v9M267 443.5h9M271.5 439v9M362 441.5h9M366.5 437v9M261 443.5h9M265.5 439v9M355 441.5h9M359.5 437v9M327 445.5h9M331.5 441v9M371 447.5h9M375.5 443v9M286 446.5h9M290.5 442v9M357 442.5h9M361.5 438v9M256 442.5h9M260.5 438v9M348 441.5h9M352.5 437v9M288 445.5h9M292.5 441v9M305 445.5h9M309.5 441v9M350 446.5h9M354.5 442v9M328 445.5h9M332.5 441v9M305 441.5h9M309.5 437v9M283 440.5h9M287.5 436v9M344 446.5h9M348.5 442v9M306 442.5h9M310.5 438v9M277 448.5h9M281.5 444v9M296 439.5h9M300.5 435v9M350 441.5h9M354.5 437v9M252 442.5h9M256.5 438v9M287 444.5h9M291.5 440v9M341 445.5h9M345.5 441v9M325 443.5h9M329.5 439v9M303 445.5h9M307.5 441v9M265 441.5h9M269.5 437v9M251 443.5h9M255.5 439v9M297 441.5h9M301.5 437v9M335 443.5h9M339.5 439v9M280 442.5h9M284.5 438v9M364 444.5h9M368.5 440v9M326 451.5h9M330.5 447v9M305 441.5h9M309.5 437v9M344 443.5h9M348.5 439v9M284 445.5h9M288.5 441v9M363 444.5h9M367.5 440v9M293 447.5h9M297.5 443v9M245 442.5h9M249.5 438v9M374 445.5h9M378.5 441v9M310 442.5h9M314.5 438v9M364 446.5h9M368.5 442v9M259 444.5h9M263.5 440v9M271 444.5h9M275.5 440v9M308 442.5h9M312.5 438v9M363 440.5h9M367.5 436v9M257 441.5h9M261.5 437v9M316 445.5h9M320.5 441v9M345 443.5h9M349.5 439v9M296 445.5h9M300.5 441v9M303 441.5h9M307.5 437v9M368 445.5h9M372.5 441v9M315 446.5h9M319.5 442v9M336 439.5h9M340.5 435v9M333 444.5h9M337.5 440v9M363 448.5h9M367.5 444v9M290 442.5h9M294.5 438v9M317 446.5h9M321.5 442v9M273 444.5h9M277.5 440v9M288 446.5h9M292.5 442v9M353 443.5h9M357.5 439v9M372 442.5h9M376.5 438v9M288 443.5h9M292.5 439v9M345 443.5h9M349.5 439v9M315 442.5h9M319.5 438v9M336 442.5h9M340.5 438v9M293 446.5h9M297.5 442v9M291 442.5h9M295.5 438v9M272 441.5h9M276.5 437v9M311 442.5h9M315.5 438v9M252 445.5h9M256.5 441v9M358 439.5h9M362.5 435v9M277 445.5h9M281.5 441v9M328 445.5h9M332.5 441v9M311 447.5h9M315.5 443v9M290 443.5h9M294.5 439v9M369 442.5h9M373.5 438v9M357 444.5h9M361.5 440v9M342 444.5h9M346.5 440v9M260 447.5h9M264.5 443v9M306 444.5h9M310.5 440v9M330 443.5h9M334.5 439v9M257 441.5h9M261.5 437v9M336 443.5h9M340.5 439v9M352 444.5h9M356.5 440v9M370 446.5h9M374.5 442v9M311 444.5h9M315.5 440v9M248 447.5h9M252.5 443v9M272 447.5h9M276.5 443v9M312 431.5h9M316.5 427v9M319 443.5h9M323.5 439v9M321 452.5h9M325.5 448v9M299 443.5h9M303.5 439v9M355 447.5h9M359.5 443v9M310 440.5h9M314.5 436v9M357 450.5h9M361.5 446v9M347 446.5h9M351.5 442v9M300 446.5h9M304.5 442v9M355 450.5h9M359.5 446v9M304 454.5h9M308.5 450v9M347 450.5h9M351.5 446v9M298 437.5h9M302.5 433v9M341 448.5h9M345.5 444v9M329 447.5h9M333.5 443v9M336 440.5h9M340.5 436v9M355 438.5h9M359.5 434v9M354 444.5h9M358.5 440v9M295 444.5h9M299.5 440v9M305 445.5h9M309.5 441v9M375 442.5h9M379.5 438v9M329 447.5h9M333.5 443v9M361 447.5h9M365.5 443v9M338 444.5h9M342.5 440v9M357 448.5h9M361.5 444v9M298 443.5h9M302.5 439v9M334 438.5h9M338.5 434v9M355 446.5h9M359.5 442v9M327 450.5h9M331.5 446v9M352 459.5h9M356.5 455v9M362 435.5h9M366.5 431v9M361 443.5h9M365.5 439v9M309 441.5h9M313.5 437v9M369 447.5h9M373.5 443v9M341 441.5h9M345.5 437v9M307 446.5h9M311.5 442v9M359 451.5h9M363.5 447v9M313 442.5h9M317.5 438v9M320 445.5h9M324.5 441v9M327 454.5h9M331.5 450v9M334 450.5h9M338.5 446v9M306 438.5h9M310.5 434v9M364 456.5h9M368.5 452v9M361 442.5h9M365.5 438v9M317 447.5h9M321.5 443v9M374 444.5h9M378.5 440v9M297 443.5h9M301.5 439v9M302 442.5h9M306.5 438v9M357 449.5h9M361.5 445v9M312 442.5h9M316.5 438v9M309 439.5h9M313.5 435v9M293 443.5h9M297.5 439v9M319 446.5h9M323.5 442v9M298 436.5h9M302.5 432v9M346 450.5h9M350.5 446v9M292 442.5h9M296.5 438v9M329 449.5h9M333.5 445v9M367 453.5h9M371.5 449v9M339 447.5h9M343.5 443v9M320 448.5h9M324.5 444v9M301 444.5h9M305.5 440v9M373 442.5h9M377.5 438v9M293 436.5h9M297.5 432v9M334 445.5h9M338.5 441v9M323 443.5h9M327.5 439v9M357 434.5h9M361.5 430v9M342 447.5h9M346.5 443v9M371 453.5h9M375.5 449v9M372 448.5h9M376.5 444v9M353 452.5h9M357.5 448v9M332 444.5h9M336.5 440v9M337 441.5h9M341.5 437v9M370 446.5h9M374.5 442v9M354 444.5h9M358.5 440v9M355 440.5h9M359.5 436v9M371 451.5h9M375.5 447v9M323 447.5h9M327.5 443v9M362 443.5h9M366.5 439v9M356 447.5h9M360.5 443v9M324 445.5h9M328.5 441v9M356 449.5h9M360.5 445v9M301 454.5h9M305.5 450v9M293 443.5h9M297.5 439v9M366 440.5h9M370.5 436v9M375 453.5h9M379.5 449v9M328 458.5h9M332.5 454v9M325 443.5h9M329.5 439v9M311 441.5h9M315.5 437v9M371 440.5h9M375.5 436v9M314 446.5h9M318.5 442v9M346 446.5h9M350.5 442v9M361 445.5h9M365.5 441v9M330 450.5h9M334.5 446v9M373 442.5h9M377.5 438v9M323 443.5h9M327.5 439v9M358 440.5h9M362.5 436v9M310 453.5h9M314.5 449v9M332 451.5h9M336.5 447v9M351 452.5h9M355.5 448v9M313 442.5h9M317.5 438v9M362 453.5h9M366.5 449v9M371 447.5h9M375.5 443v9M316 449.5h9M320.5 445v9M334 449.5h9M338.5 445v9M293 444.5h9M297.5 440v9M326 445.5h9M330.5 441v9M342 438.5h9M346.5 434v9M305 443.5h9M309.5 439v9M375 445.5h9M379.5 441v9M306 440.5h9M310.5 436v9M335 446.5h9M339.5 442v9M292 452.5h9M296.5 448v9M317 443.5h9M321.5 439v9M360 441.5h9M364.5 437v9M326 442.5h9M330.5 438v9M364 447.5h9M368.5 443v9M361 455.5h9M365.5 451v9M328 447.5h9M332.5 443v9M305 446.5h9M309.5 442v9M360 440.5h9M364.5 436v9M370 448.5h9M374.5 444v9M312 449.5h9M316.5 445v9M298 444.5h9M302.5 440v9M363 446.5h9M367.5 442v9M343 443.5h9M347.5 439v9M314 450.5h9M318.5 446v9M306 453.5h9M310.5 449v9M334 448.5h9M338.5 444v9M370 448.5h9M374.5 444v9M306 446.5h9M310.5 442v9M353 443.5h9M357.5 439v9M313 442.5h9M317.5 438v9M342 444.5h9M346.5 440v9M329 446.5h9M333.5 442v9M340 446.5h9M344.5 442v9M303 451.5h9M307.5 447v9M365 450.5h9M369.5 446v9M375 453.5h9M379.5 449v9M334 450.5h9M338.5 446v9M326 445.5h9M330.5 441v9M359 446.5h9M363.5 442v9M306 438.5h9M310.5 434v9M297 454.5h9M301.5 450v9M352 443.5h9M356.5 439v9M338 444.5h9M342.5 440v9M345 455.5h9M349.5 451v9M294 441.5h9M298.5 437v9M365 443.5h9M369.5 439v9M348 446.5h9M352.5 442v9M301 443.5h9M305.5 439v9M322 438.5h9M326.5 434v9M341 420.5h9M345.5 416v9M375 438.5h9M379.5 434v9M357 429.5h9M361.5 425v9M344 443.5h9M348.5 439v9M373 410.5h9M377.5 406v9M376 396.5h9M380.5 392v9M364 441.5h9M368.5 437v9M338 435.5h9M342.5 431v9M370 442.5h9M374.5 438v9M365 436.5h9M369.5 432v9M357 415.5h9M361.5 411v9M347 431.5h9M351.5 427v9M336 441.5h9M340.5 437v9M338 395.5h9M342.5 391v9M350 432.5h9M354.5 428v9M349 442.5h9M353.5 438v9M346 437.5h9M350.5 433v9M365 441.5h9M369.5 437v9M335 413.5h9M339.5 409v9M328 437.5h9M332.5 433v9M331 434.5h9M335.5 430v9M356 418.5h9M360.5 414v9M323 432.5h9M327.5 428v9M339 443.5h9M343.5 439v9M331 442.5h9M335.5 438v9M323 441.5h9M327.5 437v9M373 428.5h9M377.5 424v9M342 430.5h9M346.5 426v9M371 437.5h9M375.5 433v9M348 438.5h9M352.5 434v9M375 442.5h9M379.5 438v9M329 442.5h9M333.5 438v9M342 429.5h9M346.5 425v9M335 421.5h9M339.5 417v9M363 434.5h9M367.5 430v9M335 427.5h9M339.5 423v9M352 435.5h9M356.5 431v9M332 443.5h9M336.5 439v9M325 443.5h9M329.5 439v9M370 421.5h9M374.5 417v9M364 415.5h9M368.5 411v9M365 386.5h9M369.5 382v9M376 438.5h9M380.5 434v9M368 425.5h9M372.5 421v9M325 425.5h9M329.5 421v9M337 428.5h9M341.5 424v9M344 419.5h9M348.5 415v9M374 400.5h9M378.5 396v9M323 440.5h9M327.5 436v9M362 425.5h9M366.5 421v9M325 436.5h9M329.5 432v9M331 419.5h9M335.5 415v9M335 409.5h9M339.5 405v9M346 404.5h9M350.5 400v9M371 424.5h9M375.5 420v9M369 408.5h9M373.5 404v9M339 442.5h9M343.5 438v9M376 442.5h9M380.5 438v9M325 436.5h9M329.5 432v9M325 426.5h9M329.5 422v9M348 420.5h9M352.5 416v9M340 418.5h9M344.5 414v9M369 442.5h9M373.5 438v9M323 427.5h9M327.5 423v9M370 432.5h9M374.5 428v9M337 441.5h9M341.5 437v9M365 434.5h9M369.5 430v9M322 423.5h9M326.5 419v9M372 441.5h9M376.5 437v9M367 412.5h9M371.5 408v9M354 441.5h9M358.5 437v9M367 442.5h9M371.5 438v9M366 437.5h9M370.5 433v9M369 422.5h9M373.5 418v9M359 423.5h9M363.5 419v9M375 415.5h9M379.5 411v9M353 441.5h9M357.5 437v9M360 440.5h9M364.5 436v9M348 440.5h9M352.5 436v9M376 440.5h9M380.5 436v9M323 436.5h9M327.5 432v9M362 369.5h9M366.5 365v9M335 428.5h9M339.5 424v9M359 438.5h9M363.5 434v9M331 398.5h9M335.5 394v9M340 432.5h9M344.5 428v9M359 443.5h9M363.5 439v9M344 442.5h9M348.5 438v9M358 432.5h9M362.5 428v9M357 440.5h9M361.5 436v9M328 439.5h9M332.5 435v9M360 437.5h9M364.5 433v9M337 431.5h9M341.5 427v9M345 406.5h9M349.5 402v9M350 442.5h9M354.5 438v9M342 408.5h9M346.5 404v9M336 436.5h9M340.5 432v9M330 438.5h9M334.5 434v9M356 439.5h9M360.5 435v9M363 437.5h9M367.5 433v9M332 436.5h9M336.5 432v9M355 436.5h9M359.5 432v9M329 417.5h9M333.5 413v9M357 438.5h9M361.5 434v9M338 440.5h9M342.5 436v9M341 406.5h9M345.5 402v9M358 422.5h9M362.5 418v9M347 443.5h9M351.5 439v9M346 432.5h9M350.5 428v9M333 432.5h9M337.5 428v9M322 414.5h9M326.5 410v9M325 435.5h9M329.5 431v9M322 442.5h9M326.5 438v9M321 441.5h9M325.5 437v9M330 431.5h9M334.5 427v9M321 416.5h9M325.5 412v9M328 395.5h9M332.5 391v9M329 436.5h9M333.5 432v9M332 433.5h9M336.5 429v9M346 419.5h9M350.5 415v9M320 420.5h9M324.5 416v9M322 413.5h9M326.5 409v9M335 416.5h9M339.5 412v9M327 428.5h9M331.5 424v9M322 415.5h9M326.5 411v9M322 432.5h9M326.5 428v9M322 413.5h9M326.5 409v9M355 431.5h9M359.5 427v9M326 441.5h9M330.5 437v9M332 410.5h9M336.5 406v9M331 440.5h9M335.5 436v9M339 428.5h9M343.5 424v9M329 417.5h9M333.5 413v9M326 424.5h9M330.5 420v9M337 427.5h9M341.5 423v9M325 368.5h9M329.5 364v9M321 437.5h9M325.5 433v9M377 430.5h9M381.5 426v9M357 416.5h9M361.5 412v9M328 365.5h9M332.5 361v9M337 438.5h9M341.5 434v9M343 443.5h9M347.5 439v9M326 411.5h9M330.5 407v9M322 423.5h9M326.5 419v9M322 432.5h9M326.5 428v9M349 395.5h9M353.5 391v9M377 367.5h9M381.5 363v9M328 434.5h9M332.5 430v9M374 433.5h9M378.5 429v9M328 427.5h9M332.5 423v9M328 434.5h9M332.5 430v9M324 432.5h9M328.5 428v9M331 438.5h9M335.5 434v9M326 407.5h9M330.5 403v9M348 432.5h9M352.5 428v9M362 396.5h9M366.5 392v9M337 409.5h9M341.5 405v9M328 430.5h9M332.5 426v9M326 439.5h9M330.5 435v9M369 443.5h9M373.5 439v9M335 437.5h9M339.5 433v9M333 410.5h9M337.5 406v9M320 427.5h9M324.5 423v9M377 414.5h9M381.5 410v9M325 441.5h9M329.5 437v9M329 415.5h9M333.5 411v9M322 358.5h9M326.5 354v9M367 443.5h9M371.5 439v9M349 441.5h9M353.5 437v9M327 405.5h9M331.5 401v9M342 434.5h9M346.5 430v9M377 436.5h9M381.5 432v9M348 406.5h9M352.5 402v9M321 401.5h9M325.5 397v9M321 345.5h9M325.5 341v9M325 438.5h9M329.5 434v9M329 426.5h9M333.5 422v9M323 441.5h9M327.5 437v9M322 429.5h9M326.5 425v9M323 407.5h9M327.5 403v9M364 435.5h9M368.5 431v9M343 429.5h9M347.5 425v9M322 422.5h9M326.5 418v9M327 442.5h9M331.5 438v9M346 437.5h9M350.5 433v9M324 434.5h9M328.5 430v9M330 394.5h9M334.5 390v9M324 420.5h9M328.5 416v9M357 424.5h9M361.5 420v9M330 438.5h9M334.5 434v9M325 405.5h9M329.5 401v9M338 438.5h9M342.5 434v9M323 414.5h9M327.5 410v9M324 437.5h9M328.5 433v9M356 384.5h9M360.5 380v9M351 442.5h9M355.5 438v9M322 441.5h9M326.5 437v9M321 399.5h9M325.5 395v9M349 440.5h9M353.5 436v9M291 479.5h9M295.5 475v9M307 484.5h9M311.5 480v9M279 461.5h9M283.5 457v9M283 463.5h9M287.5 459v9M296 460.5h9M300.5 456v9M326 466.5h9M330.5 462v9M341 462.5h9M345.5 458v9M364 465.5h9M368.5 461v9M348 458.5h9M352.5 454v9M368 456.5h9M372.5 452v9M356 470.5h9M360.5 466v9M334 459.5h9M338.5 455v9M318 462.5h9M322.5 458v9M372 462.5h9M376.5 458v9M308 458.5h9M312.5 454v9M360 452.5h9M364.5 448v9M186 326.5h9M190.5 322v9M194 403.5h9M198.5 399v9M196 439.5h9M200.5 435v9M194 436.5h9M198.5 432v9M190 365.5h9M194.5 361v9M182 345.5h9M186.5 341v9M189 391.5h9M193.5 387v9M193 334.5h9M197.5 330v9M190 417.5h9M194.5 413v9M194 427.5h9M198.5 423v9M189 392.5h9M193.5 388v9M192 425.5h9M196.5 421v9M191 342.5h9M195.5 338v9M192 425.5h9M196.5 421v9M187 357.5h9M191.5 353v9M191 380.5h9M195.5 376v9M192 265.5h9M196.5 261v9M194 264.5h9M198.5 260v9M194 275.5h9M198.5 271v9M196 282.5h9M200.5 278v9M195 284.5h9M199.5 280v9M193 290.5h9M197.5 286v9M191 293.5h9M195.5 289v9M193 299.5h9M197.5 295v9M226 281.5h9M230.5 277v9M226 267.5h9M230.5 263v9M248 277.5h9M252.5 273v9M252 284.5h9M256.5 280v9M259 273.5h9M263.5 269v9M259 279.5h9M263.5 275v9M268 255.5h9M272.5 251v9M270 264.5h9M274.5 260v9M282 254.5h9M286.5 250v9M261 296.5h9M265.5 292v9M258 301.5h9M262.5 297v9M253 310.5h9M257.5 306v9M186 317.5h9M190.5 313v9M198 319.5h9M202.5 315v9M202 303.5h9M206.5 299v9M209 315.5h9M213.5 311v9M206 325.5h9M210.5 321v9M186 329.5h9M190.5 325v9M188 336.5h9M192.5 332v9M189 340.5h9M193.5 336v9M191 345.5h9M195.5 341v9M192 353.5h9M196.5 349v9M211 331.5h9M215.5 327v9M212 333.5h9M216.5 329v9M230 332.5h9M234.5 328v9M205 338.5h9M209.5 334v9M209 349.5h9M213.5 345v9M211 351.5h9M215.5 347v9M214 349.5h9M218.5 345v9M203 349.5h9M207.5 345v9M254 329.5h9M258.5 325v9M261 332.5h9M265.5 328v9M263 340.5h9M267.5 336v9M262 346.5h9M266.5 342v9M247 348.5h9M251.5 344v9M253 353.5h9M257.5 349v9M258 355.5h9M262.5 351v9M268 354.5h9M272.5 350v9M190 353.5h9M194.5 349v9M191 362.5h9M195.5 358v9M189 366.5h9M193.5 362v9M192 372.5h9M196.5 368v9M192 385.5h9M196.5 381v9M187 392.5h9M191.5 388v9M190 394.5h9M194.5 390v9M202 390.5h9M206.5 386v9M200 383.5h9M204.5 379v9M204 395.5h9M208.5 391v9M192 407.5h9M196.5 403v9M191 413.5h9M195.5 409v9M192 425.5h9M196.5 421v9M193 430.5h9M197.5 426v9M192 436.5h9M196.5 432v9M211 362.5h9M215.5 358v9M215 367.5h9M219.5 363v9M218 359.5h9M222.5 355v9M220 356.5h9M224.5 352v9M199 381.5h9M203.5 377v9M215 382.5h9M219.5 378v9M218 411.5h9M222.5 407v9M198 452.5h9M202.5 448v9M247 353.5h9M251.5 349v9M252 360.5h9M256.5 356v9M255 374.5h9M259.5 370v9M250 381.5h9M254.5 377v9M260 383.5h9M264.5 379v9M264 362.5h9M268.5 358v9M258 398.5h9M262.5 394v9M262 397.5h9M266.5 393v9M251 411.5h9M255.5 407v9M256 420.5h9M260.5 416v9M253 427.5h9M257.5 423v9M264 412.5h9M268.5 408v9M267 430.5h9M271.5 426v9M266 440.5h9M270.5 436v9M272 300.5h9M276.5 296v9M276 320.5h9M280.5 316v9M268 375.5h9M272.5 371v9M274 390.5h9M278.5 386v9M270 405.5h9M274.5 401v9M277 415.5h9M281.5 411v9M272 428.5h9M276.5 424v9M279 436.5h9M283.5 432v9M246 436.5h9M250.5 432v9M249 428.5h9M253.5 424v9M258 437.5h9M262.5 433v9M270 345.5h9M274.5 341v9M276 365.5h9M280.5 361v9M277 272.5h9M281.5 268v9M273 285.5h9M277.5 281v9M276 63.5h9M280.5 59v9M294 64.5h9M298.5 60v9M297 66.5h9M301.5 62v9M299 64.5h9M303.5 60v9M302 62.5h9M306.5 58v9M308 66.5h9M312.5 62v9M311 64.5h9M315.5 60v9M314 63.5h9M318.5 59v9M252 57.5h9M256.5 53v9M266 72.5h9M270.5 68v9M215 263.5h9M219.5 259v9M228 256.5h9M232.5 252v9M229 261.5h9M233.5 257v9M236 280.5h9M240.5 276v9M213 304.5h9M217.5 300v9M204 310.5h9M208.5 306v9M204 311.5h9M208.5 307v9M240 316.5h9M244.5 312v9M224 331.5h9M228.5 327v9M221 339.5h9M225.5 335v9M237 342.5h9M241.5 338v9M239 356.5h9M243.5 352v9M235 362.5h9M239.5 358v9M239 356.5h9M243.5 352v9M235 363.5h9M239.5 359v9M234 370.5h9M238.5 366v9M238 372.5h9M242.5 368v9M236 371.5h9M240.5 367v9M203 402.5h9M207.5 398v9M207 404.5h9M211.5 400v9M237 421.5h9M241.5 417v9M234 430.5h9M238.5 426v9M218 437.5h9M222.5 433v9M226 437.5h9M230.5 433v9M240 446.5h9M244.5 442v9M241 449.5h9M245.5 445v9M232 440.5h9M236.5 436v9M211 441.5h9M215.5 437v9M196 446.5h9M200.5 442v9M222 448.5h9M226.5 444v9" stroke="#14c2c2" stroke-width="1"/>
<path d="M215.2 259.2l8.33 8.33M215.2 267.6l8.33 -8.33M228.4 251.8l8.33 8.33M228.4 260.2l8.33 -8.33M229.4 256.8l8.33 8.33M229.4 265.2l8.33 -8.33M236.2 276.4l8.33 8.33M236.2 284.8l8.33 -8.33M213.4 299.8l8.33 8.33M213.4 308.2l8.33 -8.33M203.8 306.4l8.33 8.33M203.8 314.8l8.33 -8.33M204.4 307.4l8.33 8.33M204.4 315.8l8.33 -8.33M240.2 311.8l8.33 8.33M240.2 320.2l8.33 -8.33M223.8 327.2l8.33 8.33M223.8 335.6l8.33 -8.33M220.8 335.2l8.33 8.33M220.8 343.6l8.33 -8.33M237.0 338.2l8.33 8.33M237.0 346.6l8.33 -8.33M239.0 351.8l8.33 8.33M239.0 360.2l8.33 -8.33M234.8 357.8l8.33 8.33M234.8 366.2l8.33 -8.33M239.4 351.8l8.33 8.33M239.4 360.2l8.33 -8.33M234.8 358.8l8.33 8.33M234.8 367.2l8.33 -8.33M233.8 365.8l8.33 8.33M233.8 374.2l8.33 -8.33M237.8 367.8l8.33 8.33M237.8 376.2l8.33 -8.33M235.8 366.8l8.33 8.33M235.8 375.2l8.33 -8.33M202.8 397.8l8.33 8.33M202.8 406.2l8.33 -8.33M206.8 400.2l8.33 8.33M206.8 408.6l8.33 -8.33M237.2 416.8l8.33 8.33M237.2 425.2l8.33 -8.33M234.2 425.8l8.33 8.33M234.2 434.2l8.33 -8.33M218.2 432.8l8.33 8.33M218.2 441.2l8.33 -8.33M225.8 432.8l8.33 8.33M225.8 441.2l8.33 -8.33M239.8 441.8l8.33 8.33M239.8 450.2l8.33 -8.33M240.8 444.8l8.33 8.33M240.8 453.2l8.33 -8.33M231.8 435.8l8.33 8.33M231.8 444.2l8.33 -8.33M210.8 436.8l8.33 8.33M210.8 445.2l8.33 -8.33M195.8 441.8l8.33 8.33M195.8 450.2l8.33 -8.33M221.8 443.8l8.33 8.33M221.8 452.2l8.33 -8.33" stroke="#0000ff" stroke-width="1"/>
<g fill="#bf00bf" stroke="#000" stroke-width="0.69">
<circle cx="242.4" cy="442.8" r="4.17"/>
<circle cx="220.5" cy="443.6" r="4.17"/>
<circle cx="236.0" cy="443.8" r="4.17"/>
<circle cx="205.3" cy="443.0" r="4.17"/>
<circle cx="196.5" cy="443.5" r="4.17"/>
<circle cx="243.5" cy="444.2" r="4.17"/>
<circle cx="242.3" cy="444.9" r="4.17"/>
<circle cx="235.2" cy="443.6" r="4.17"/>
<circle cx="220.0" cy="445.4" r="4.17"/>
<circle cx="206.1" cy="444.6" r="4.17"/>
<circle cx="196.1" cy="444.5" r="4.17"/>
<circle cx="239.0" cy="444.3" r="4.17"/>
<circle cx="241.0" cy="443.9" r="4.17"/>
<circle cx="206.7" cy="443.3" r="4.17"/>
<circle cx="228.4" cy="443.8" r="4.17"/>
<circle cx="220.5" cy="443.9" r="4.17"/>
<circle cx="219.8" cy="443.9" r="4.17"/>
<circle cx="219.3" cy="445.0" r="4.17"/>
<circle cx="220.9" cy="445.4" r="4.17"/>
<circle cx="197.4" cy="444.2" r="4.17"/>
<circle cx="205.8" cy="444.6" r="4.17"/>
<circle cx="206.4" cy="443.3" r="4.17"/>
<circle cx="215.1" cy="442.2" r="4.17"/>
<circle cx="214.3" cy="443.7" r="4.17"/>
<circle cx="245.5" cy="444.0" r="4.17"/>
<circle cx="242.6" cy="445.0" r="4.17"/>
<circle cx="230.6" cy="445.8" r="4.17"/>
<circle cx="213.4" cy="444.0" r="4.17"/>
<circle cx="223.6" cy="444.9" r="4.17"/>
<circle cx="219.1" cy="444.7" r="4.17"/>
<circle cx="213.4" cy="444.0" r="4.17"/>
<circle cx="238.9" cy="444.5" r="4.17"/>
<circle cx="234.6" cy="444.1" r="4.17"/>
<circle cx="231.5" cy="445.1" r="4.17"/>
<circle cx="213.5" cy="443.0" r="4.17"/>
<circle cx="215.2" cy="442.0" r="4.17"/>
<circle cx="212.9" cy="443.9" r="4.17"/>
<circle cx="230.1" cy="444.6" r="4.17"/>
<circle cx="232.7" cy="444.7" r="4.17"/>
<circle cx="236.5" cy="443.4" r="4.17"/>
<circle cx="223.8" cy="444.3" r="4.17"/>
<circle cx="209.6" cy="443.3" r="4.17"/>
<circle cx="236.1" cy="444.4" r="4.17"/>
<circle cx="226.7" cy="443.3" r="4.17"/>
<circle cx="244.6" cy="443.0" r="4.17"/>
<circle cx="213.6" cy="444.6" r="4.17"/>
<circle cx="202.6" cy="442.8" r="4.17"/>
<circle cx="238.0" cy="442.7" r="4.17"/>
<circle cx="194.1" cy="444.5" r="4.17"/>
<circle cx="202.4" cy="443.9" r="4.17"/>
<circle cx="226.0" cy="442.0" r="4.17"/>
<circle cx="230.3" cy="444.8" r="4.17"/>
<circle cx="207.3" cy="442.9" r="4.17"/>
<circle cx="195.7" cy="443.5" r="4.17"/>
<circle cx="223.1" cy="443.8" r="4.17"/>
<circle cx="234.9" cy="445.5" r="4.17"/>
<circle cx="246.0" cy="443.8" r="4.17"/>
<circle cx="210.3" cy="444.6" r="4.17"/>
<circle cx="210.1" cy="443.7" r="4.17"/>
<circle cx="231.1" cy="444.3" r="4.17"/>
<circle cx="235.2" cy="442.7" r="4.17"/>
<circle cx="209.1" cy="443.9" r="4.17"/>
<circle cx="199.8" cy="443.4" r="4.17"/>
<circle cx="207.2" cy="443.0" r="4.17"/>
<circle cx="207.1" cy="444.1" r="4.17"/>
<circle cx="220.9" cy="444.7" r="4.17"/>
<circle cx="204.2" cy="444.2" r="4.17"/>
<circle cx="197.9" cy="443.6" r="4.17"/>
<circle cx="244.7" cy="444.4" r="4.17"/>
<circle cx="225.8" cy="443.0" r="4.17"/>
<circle cx="194.9" cy="444.1" r="4.17"/>
<circle cx="231.5" cy="444.3" r="4.17"/>
<circle cx="203.5" cy="443.8" r="4.17"/>
<circle cx="214.8" cy="443.6" r="4.17"/>
<circle cx="222.8" cy="443.9" r="4.17"/>
<circle cx="232.5" cy="443.4" r="4.17"/>
<circle cx="244.6" cy="443.7" r="4.17"/>
<circle cx="207.2" cy="444.4" r="4.17"/>
<circle cx="196.1" cy="442.3" r="4.17"/>
<circle cx="204.5" cy="444.8" r="4.17"/>
<circle cx="211.3" cy="444.2" r="4.17"/>
<circle cx="205.4" cy="444.0" r="4.17"/>
<circle cx="216.2" cy="443.0" r="4.17"/>
<circle cx="216.5" cy="443.5" r="4.17"/>
<circle cx="243.8" cy="443.4" r="4.17"/>
<circle cx="243.9" cy="444.4" r="4.17"/>
<circle cx="217.0" cy="444.4" r="4.17"/>
<circle cx="213.1" cy="444.8" r="4.17"/>
<circle cx="240.4" cy="443.9" r="4.17"/>
<circle cx="230.8" cy="442.2" r="4.17"/>
<circle cx="240.6" cy="443.1" r="4.17"/>
<circle cx="216.2" cy="443.5" r="4.17"/>
<circle cx="195.1" cy="444.1" r="4.17"/>
<circle cx="209.7" cy="442.6" r="4.17"/>
<circle cx="204.6" cy="443.7" r="4.17"/>
<circle cx="226.6" cy="443.9" r="4.17"/>
<circle cx="225.0" cy="443.4" r="4.17"/>
<circle cx="199.8" cy="443.7" r="4.17"/>
<circle cx="236.1" cy="445.6" r="4.17"/>
<circle cx="229.8" cy="443.8" r="4.17"/>
<circle cx="215.7" cy="445.4" r="4.17"/>
<circle cx="217.0" cy="444.0" r="4.17"/>
<circle cx="218.5" cy="443.3" r="4.17"/>
<circle cx="229.9" cy="444.3" r="4.17"/>
<circle cx="219.6" cy="443.5" r="4.17"/>
<circle cx="241.3" cy="443.8" r="4.17"/>
<circle cx="226.9" cy="442.0" r="4.17"/>
<circle cx="213.0" cy="444.1" r="4.17"/>
<circle cx="234.8" cy="443.4" r="4.17"/>
<circle cx="224.4" cy="444.7" r="4.17"/>
<circle cx="203.9" cy="443.9" r="4.17"/>
<circle cx="228.9" cy="443.5" r="4.17"/>
<circle cx="241.1" cy="443.0" r="4.17"/>
<circle cx="218.2" cy="443.8" r="4.17"/>
<circle cx="224.4" cy="443.5" r="4.17"/>
<circle cx="197.9" cy="443.2" r="4.17"/>
<circle cx="196.9" cy="445.3" r="4.17"/>
<circle cx="207.4" cy="443.7" r="4.17"/>
<circle cx="243.9" cy="444.5" r="4.17"/>
<circle cx="199.5" cy="445.0" r="4.17"/>
<circle cx="210.7" cy="444.1" r="4.17"/>
<circle cx="228.5" cy="444.3" r="4.17"/>
<circle cx="240.9" cy="444.2" r="4.17"/>
<circle cx="244.3" cy="444.6" r="4.17"/>
<circle cx="227.6" cy="444.3" r="4.17"/>
<circle cx="196.4" cy="444.2" r="4.17"/>
<circle cx="217.1" cy="443.9" r="4.17"/>
<circle cx="241.2" cy="443.4" r="4.17"/>
<circle cx="210.1" cy="443.5" r="4.17"/>
<circle cx="194.3" cy="443.3" r="4.17"/>
<circle cx="242.5" cy="444.0" r="4.17"/>
<circle cx="240.8" cy="444.8" r="4.17"/>
<circle cx="232.2" cy="443.1" r="4.17"/>
<circle cx="202.8" cy="443.3" r="4.17"/>
<circle cx="231.7" cy="443.0" r="4.17"/>
<circle cx="200.6" cy="443.8" r="4.17"/>
<circle cx="207.1" cy="444.6" r="4.17"/>
<circle cx="195.3" cy="443.5" r="4.17"/>
<circle cx="205.3" cy="444.0" r="4.17"/>
<circle cx="240.6" cy="442.0" r="4.17"/>
<circle cx="233.2" cy="443.7" r="4.17"/>
<circle cx="229.5" cy="444.2" r="4.17"/>
<circle cx="225.6" cy="443.3" r="4.17"/>
<circle cx="205.5" cy="442.5" r="4.17"/>
<circle cx="198.6" cy="444.2" r="4.17"/>
<circle cx="207.3" cy="443.7" r="4.17"/>
<circle cx="239.1" cy="445.2" r="4.17"/>
<circle cx="221.1" cy="443.3" r="4.17"/>
<circle cx="197.7" cy="443.7" r="4.17"/>
<circle cx="208.9" cy="443.5" r="4.17"/>
</g>
<path d="M100.00 444.72H381.82" stroke="#0000ff" stroke-width="1.39" stroke-dasharray="8.33 8.33"/>
<path d="M100.00 442.02H381.82M100.00 447.22H381.82" stroke="#0000ff" stroke-width="1.39" stroke-dasharray="4.17 6.94 1.39 6.94"/>
<path d="M100.00 444.32H381.82" stroke="#ff0000" stroke-width="1.39" stroke-dasharray="8.33 8.33"/>
</g>
<path d="M100.5 540.00v-5.56M138.5 540.00v-5.56M175.5 540.00v-5.56M213.5 540.00v-5.56M250.5 540.00v-5.56M288.5 540.00v-5.56M325.5 540.00v-5.56M363.5 540.00v-5.56M117.5 60.35v5.56M155.5 60.35v5.56M193.5 60.35v5.56M230.5 60.35v5.56M268.5 60.35v5.56M305.5 60.35v5.56M343.5 60.35v5.56M380.5 60.35v5.56M100.70 540.5h5.56M382.10 540.5h-5.56M100.70 420.5h5.56M382.10 420.5h-5.56M100.70 300.5h5.56M382.10 300.5h-5.56M100.70 180.5h5.56M382.10 180.5h-5.56M100.70 60.5h5.56M382.10 60.5h-5.56" stroke="#1a1a1a" stroke-width="1" fill="none"/>
<path d="M100.70 60.35H382.10M100.70 540.00H382.10M100.70 60.35V540.00M382.10 60.35V540.00" fill="none" stroke="#000" stroke-width="1.4" stroke-linecap="square"/>
<text transform="translate(99.80,560.00) scale(0.960,1.070)" text-anchor="middle">−20</text>
<text transform="translate(137.38,560.00) scale(0.960,1.070)" text-anchor="middle">−18</text>
<text transform="translate(174.95,560.00) scale(0.960,1.070)" text-anchor="middle">−16</text>
<text transform="translate(212.53,560.00) scale(0.960,1.070)" text-anchor="middle">−14</text>
<text transform="translate(250.10,560.00) scale(0.960,1.070)" text-anchor="middle">−12</text>
<text transform="translate(287.68,560.00) scale(0.960,1.070)" text-anchor="middle">−10</text>
<text transform="translate(325.26,560.00) scale(0.960,1.070)" text-anchor="middle">−8</text>
<text transform="translate(362.83,560.00) scale(0.960,1.070)" text-anchor="middle">−6</text>
<text transform="translate(117.20,50.00) scale(0.960,1.070)" text-anchor="middle">14</text>
<text transform="translate(154.78,50.00) scale(0.960,1.070)" text-anchor="middle">16</text>
<text transform="translate(192.35,50.00) scale(0.960,1.070)" text-anchor="middle">18</text>
<text transform="translate(229.93,50.00) scale(0.960,1.070)" text-anchor="middle">20</text>
<text transform="translate(267.50,50.00) scale(0.960,1.070)" text-anchor="middle">22</text>
<text transform="translate(305.08,50.00) scale(0.960,1.070)" text-anchor="middle">24</text>
<text transform="translate(342.66,50.00) scale(0.960,1.070)" text-anchor="middle">26</text>
<text transform="translate(380.23,50.00) scale(0.960,1.070)" text-anchor="middle">28</text>
<text transform="translate(95.60,545.00) scale(0.960,1.070)" text-anchor="end">0</text>
<text transform="translate(95.60,425.00) scale(0.960,1.070)" text-anchor="end">5</text>
<text transform="translate(95.60,305.00) scale(0.960,1.070)" text-anchor="end">10</text>
<text transform="translate(95.60,185.00) scale(0.960,1.070)" text-anchor="end">15</text>
<text transform="translate(95.60,65.00) scale(0.960,1.070)" text-anchor="end">20</text>
<text transform="translate(242.00,584.00) scale(0.995,1.070)" text-anchor="middle">magnitude (bottom:isnt / top:calib)</text>
<text transform="translate(64.00,299.50) rotate(-90) scale(1.000,1.070)" text-anchor="middle">FWHM (pix)</text>
<text transform="translate(226.50,28.80)" text-anchor="middle" font-size="20.00px">FWHM vs magnitudes</text>
<g clip-path="url(#c2)">
<g fill="#0000ff" stroke="#000" stroke-width="1.39">
<rect x="438.18" y="339.08" width="2.40" height="64.36"/>
<rect x="438.18" y="274.73" width="231.09" height="64.36"/>
<rect x="438.18" y="210.37" width="28.18" height="64.36"/>
<rect x="438.18" y="146.02" width="2.40" height="64.36"/>
<rect x="438.18" y="81.66" width="2.40" height="64.36"/>
</g>
<path d="M438.18 307.80H720.00" stroke="#000" stroke-width="1.39" stroke-dasharray="8.33 8.33"/>
</g>
<path d="M438.5 540.00v-5.56M438.5 60.35v5.56M509.5 540.00v-5.56M509.5 60.35v5.56M579.5 540.00v-5.56M579.5 60.35v5.56M650.5 540.00v-5.56M650.5 60.35v5.56M720.5 540.00v-5.56M720.5 60.35v5.56M438.85 540.5h5.56M720.20 540.5h-5.56M438.85 480.5h5.56M720.20 480.5h-5.56M438.85 420.5h5.56M720.20 420.5h-5.56M438.85 360.5h5.56M720.20 360.5h-5.56M438.85 300.5h5.56M720.20 300.5h-5.56M438.85 240.5h5.56M720.20 240.5h-5.56M438.85 180.5h5.56M720.20 180.5h-5.56M438.85 120.5h5.56M720.20 120.5h-5.56M438.85 60.5h5.56M720.20 60.5h-5.56" stroke="#1a1a1a" stroke-width="1" fill="none"/>
<path d="M438.85 60.35H720.20M438.85 540.00H720.20M438.85 60.35V540.00M720.20 60.35V540.00" fill="none" stroke="#000" stroke-width="1.4" stroke-linecap="square"/>
<text transform="translate(437.98,560.00) scale(0.960,1.070)" text-anchor="middle">0</text>
<text transform="translate(508.44,560.00) scale(0.960,1.070)" text-anchor="middle">50</text>
<text transform="translate(578.89,560.00) scale(0.960,1.070)" text-anchor="middle">100</text>
<text transform="translate(649.35,560.00) scale(0.960,1.070)" text-anchor="middle">150</text>
<text transform="translate(719.80,560.00) scale(0.960,1.070)" text-anchor="middle">200</text>
<text transform="translate(433.40,545.00) scale(0.960,1.070)" text-anchor="end">3.2</text>
<text transform="translate(433.40,485.00) scale(0.960,1.070)" text-anchor="end">3.4</text>
<text transform="translate(433.40,425.00) scale(0.960,1.070)" text-anchor="end">3.6</text>
<text transform="translate(433.40,365.00) scale(0.960,1.070)" text-anchor="end">3.8</text>
<text transform="translate(433.40,305.00) scale(0.960,1.070)" text-anchor="end">4.0</text>
<text transform="translate(433.40,245.00) scale(0.960,1.070)" text-anchor="end">4.2</text>
<text transform="translate(433.40,185.00) scale(0.960,1.070)" text-anchor="end">4.4</text>
<text transform="translate(433.40,125.00) scale(0.960,1.070)" text-anchor="end">4.6</text>
<text transform="translate(433.40,65.00) scale(0.960,1.070)" text-anchor="end">4.8</text>
<text transform="translate(579.60,584.00) scale(1.000,1.070)" text-anchor="middle">number of sources</text>
<text transform="translate(396.40,300.30) rotate(-90) scale(1.000,1.070)" text-anchor="middle">FWHM of best-effort PSF-like sources</text>
<text transform="translate(579.80,53.00)" text-anchor="middle" font-size="20.00px">histogram of FWHM</text>
<rect x="27.90" y="70.60" width="344.60" height="179.30" fill="#fff" stroke="#000" stroke-width="1.4"/>
<g fill="none">
<path d="M37 86.5h9M41.5 82v9M65 86.5h9M69.5 82v9" stroke="#14c2c2" stroke-width="1"/>
<path d="M37.1 111.6l8.33 8.33M37.1 120.0l8.33 -8.33M65.0 111.6l8.33 8.33M65.0 120.0l8.33 -8.33" stroke="#0000ff" stroke-width="1"/>
<g fill="#bf00bf" stroke="#000" stroke-width="0.69"><circle cx="41.3" cy="144.7" r="4.17"/><circle cx="69.2" cy="144.7" r="4.17"/></g>
<path d="M41.30 173.60H69.20" stroke="#0000ff" stroke-width="1.39" stroke-dasharray="8.33 8.33"/>
<path d="M41.30 202.60H69.20" stroke="#ff0000" stroke-width="1.39" stroke-dasharray="8.33 8.33"/>
<path d="M41.30 231.50H69.20" stroke="#0000ff" stroke-width="1.39" stroke-dasharray="4.17 6.94 1.39 6.94"/>
</g>
<text transform="translate(91.80,93.30)" font-size="20.00px">all sample</text>
<text transform="translate(91.80,122.30)" font-size="20.00px">sample for rough FWHM</text>
<text transform="translate(91.80,151.20)" font-size="20.00px">best-effort PSF-like sample</text>
<text transform="translate(91.80,180.10)" font-size="20.00px">resultant FWHM: 3.97</text>
<text transform="translate(91.80,209.10)" font-size="20.00px">median FHWM of sequence</text>
<text transform="translate(91.80,238.00)" font-size="20.00px">sigma range</text>
</svg>
</body></html>
